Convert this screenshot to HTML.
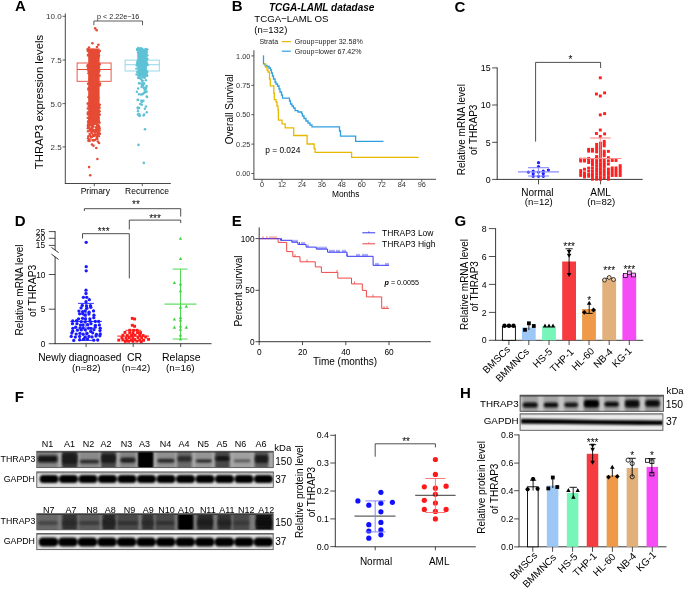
<!DOCTYPE html>
<html><head><meta charset="utf-8"><style>
html,body{margin:0;padding:0;background:#fff;}
svg{display:block;filter:blur(0.3px);}
text{font-family:"Liberation Sans", sans-serif;}
</style></head><body>
<svg width="685" height="589" viewBox="0 0 685 589">
<rect width="685" height="589" fill="#fff"/>
<text x="15.05" y="11.40" font-size="15" text-anchor="start" font-weight="bold" font-style="normal" fill="#000" >A</text>
<line x1="65.30" y1="13.50" x2="65.30" y2="183.50" stroke="#333" stroke-width="0.9" />
<line x1="64.85" y1="183.50" x2="170.80" y2="183.50" stroke="#333" stroke-width="0.9" />
<line x1="62.60" y1="16.30" x2="65.30" y2="16.30" stroke="#333" stroke-width="0.8" />
<text x="61.70" y="19.20" font-size="8" text-anchor="end" font-weight="normal" font-style="normal" fill="#333" >10.0</text>
<line x1="62.60" y1="60.00" x2="65.30" y2="60.00" stroke="#333" stroke-width="0.8" />
<text x="61.70" y="62.90" font-size="8" text-anchor="end" font-weight="normal" font-style="normal" fill="#333" >7.5</text>
<line x1="62.60" y1="103.60" x2="65.30" y2="103.60" stroke="#333" stroke-width="0.8" />
<text x="61.70" y="106.50" font-size="8" text-anchor="end" font-weight="normal" font-style="normal" fill="#333" >5.0</text>
<line x1="62.60" y1="146.90" x2="65.30" y2="146.90" stroke="#333" stroke-width="0.8" />
<text x="61.70" y="149.80" font-size="8" text-anchor="end" font-weight="normal" font-style="normal" fill="#333" >2.5</text>
<line x1="94.30" y1="183.50" x2="94.30" y2="186.20" stroke="#333" stroke-width="0.8" />
<line x1="142.30" y1="183.50" x2="142.30" y2="186.20" stroke="#333" stroke-width="0.8" />
<text x="95.30" y="193.70" font-size="8.5" text-anchor="middle" font-weight="normal" font-style="normal" fill="#000" >Primary</text>
<text x="147.00" y="193.70" font-size="8.5" text-anchor="middle" font-weight="normal" font-style="normal" fill="#000" >Recurrence</text>
<text x="42.80" y="102.00" font-size="11.3" text-anchor="middle" font-weight="normal" font-style="normal" fill="#000" transform="rotate(-90 42.8 102)" >THRAP3 expression levels</text>
<polyline points="93.90,25.20 93.90,21.00 142.50,21.00 142.50,25.20" fill="none" stroke="#333" stroke-width="0.8" />
<text x="118.20" y="18.60" font-size="7.2" text-anchor="middle" font-weight="normal" font-style="normal" fill="#222" >p &lt; 2.22e&#8722;16</text>
<rect x="77.10" y="63.00" width="34.00" height="18.30" fill="none" stroke="#E64B35" stroke-width="0.9" />
<line x1="77.10" y1="69.50" x2="111.10" y2="69.50" stroke="#E64B35" stroke-width="1.1" />
<rect x="125.10" y="60.10" width="34.20" height="10.90" fill="none" stroke="#8fd5e4" stroke-width="0.9" />
<line x1="125.10" y1="64.80" x2="159.30" y2="64.80" stroke="#8fd5e4" stroke-width="1.1" />
<rect x="88.20" y="48.50" width="11.40" height="73.00" fill="#E64B35" stroke="none" stroke-width="1" />
<circle cx="98.19" cy="57.81" r="1.2" fill="#E64B35"/>
<circle cx="90.79" cy="103.76" r="1.2" fill="#E64B35"/>
<circle cx="93.22" cy="84.17" r="1.2" fill="#E64B35"/>
<circle cx="97.46" cy="95.57" r="1.2" fill="#E64B35"/>
<circle cx="87.95" cy="54.85" r="1.2" fill="#E64B35"/>
<circle cx="93.01" cy="109.01" r="1.2" fill="#E64B35"/>
<circle cx="87.63" cy="103.65" r="1.2" fill="#E64B35"/>
<circle cx="96.62" cy="80.51" r="1.2" fill="#E64B35"/>
<circle cx="99.42" cy="64.70" r="1.2" fill="#E64B35"/>
<circle cx="87.98" cy="113.80" r="1.2" fill="#E64B35"/>
<circle cx="94.37" cy="49.86" r="1.2" fill="#E64B35"/>
<circle cx="92.37" cy="116.56" r="1.2" fill="#E64B35"/>
<circle cx="92.88" cy="63.81" r="1.2" fill="#E64B35"/>
<circle cx="90.37" cy="50.12" r="1.2" fill="#E64B35"/>
<circle cx="93.80" cy="79.97" r="1.2" fill="#E64B35"/>
<circle cx="90.49" cy="65.02" r="1.2" fill="#E64B35"/>
<circle cx="93.35" cy="63.97" r="1.2" fill="#E64B35"/>
<circle cx="87.87" cy="69.15" r="1.2" fill="#E64B35"/>
<circle cx="94.56" cy="109.14" r="1.2" fill="#E64B35"/>
<circle cx="89.92" cy="94.89" r="1.2" fill="#E64B35"/>
<circle cx="98.35" cy="120.46" r="1.2" fill="#E64B35"/>
<circle cx="91.76" cy="56.82" r="1.2" fill="#E64B35"/>
<circle cx="96.49" cy="100.67" r="1.2" fill="#E64B35"/>
<circle cx="92.88" cy="116.36" r="1.2" fill="#E64B35"/>
<circle cx="95.98" cy="108.59" r="1.2" fill="#E64B35"/>
<circle cx="94.94" cy="70.15" r="1.2" fill="#E64B35"/>
<circle cx="98.18" cy="112.42" r="1.2" fill="#E64B35"/>
<circle cx="94.96" cy="84.89" r="1.2" fill="#E64B35"/>
<circle cx="90.63" cy="50.52" r="1.2" fill="#E64B35"/>
<circle cx="92.78" cy="106.21" r="1.2" fill="#E64B35"/>
<circle cx="94.46" cy="60.63" r="1.2" fill="#E64B35"/>
<circle cx="96.03" cy="99.32" r="1.2" fill="#E64B35"/>
<circle cx="93.09" cy="75.35" r="1.2" fill="#E64B35"/>
<circle cx="97.33" cy="85.12" r="1.2" fill="#E64B35"/>
<circle cx="92.52" cy="86.03" r="1.2" fill="#E64B35"/>
<circle cx="87.97" cy="83.75" r="1.2" fill="#E64B35"/>
<circle cx="96.39" cy="51.17" r="1.2" fill="#E64B35"/>
<circle cx="95.01" cy="119.77" r="1.2" fill="#E64B35"/>
<circle cx="89.73" cy="76.73" r="1.2" fill="#E64B35"/>
<circle cx="99.88" cy="84.66" r="1.2" fill="#E64B35"/>
<circle cx="94.35" cy="104.25" r="1.2" fill="#E64B35"/>
<circle cx="90.50" cy="110.80" r="1.2" fill="#E64B35"/>
<circle cx="99.51" cy="85.51" r="1.2" fill="#E64B35"/>
<circle cx="93.34" cy="90.18" r="1.2" fill="#E64B35"/>
<circle cx="94.45" cy="67.66" r="1.2" fill="#E64B35"/>
<circle cx="87.67" cy="117.87" r="1.2" fill="#E64B35"/>
<circle cx="97.86" cy="105.21" r="1.2" fill="#E64B35"/>
<circle cx="96.86" cy="112.69" r="1.2" fill="#E64B35"/>
<circle cx="94.08" cy="107.07" r="1.2" fill="#E64B35"/>
<circle cx="92.93" cy="88.98" r="1.2" fill="#E64B35"/>
<circle cx="98.48" cy="52.10" r="1.2" fill="#E64B35"/>
<circle cx="90.10" cy="89.61" r="1.2" fill="#E64B35"/>
<circle cx="93.66" cy="84.84" r="1.2" fill="#E64B35"/>
<circle cx="91.93" cy="74.05" r="1.2" fill="#E64B35"/>
<circle cx="95.39" cy="87.31" r="1.2" fill="#E64B35"/>
<circle cx="93.33" cy="92.71" r="1.2" fill="#E64B35"/>
<circle cx="90.47" cy="50.04" r="1.2" fill="#E64B35"/>
<circle cx="94.91" cy="60.94" r="1.2" fill="#E64B35"/>
<circle cx="97.58" cy="110.85" r="1.2" fill="#E64B35"/>
<circle cx="97.81" cy="106.19" r="1.2" fill="#E64B35"/>
<circle cx="98.12" cy="66.64" r="1.2" fill="#E64B35"/>
<circle cx="88.64" cy="97.14" r="1.2" fill="#E64B35"/>
<circle cx="87.78" cy="49.22" r="1.2" fill="#E64B35"/>
<circle cx="90.72" cy="103.16" r="1.2" fill="#E64B35"/>
<circle cx="95.41" cy="55.99" r="1.2" fill="#E64B35"/>
<circle cx="88.47" cy="73.14" r="1.2" fill="#E64B35"/>
<circle cx="94.19" cy="59.65" r="1.2" fill="#E64B35"/>
<circle cx="91.01" cy="60.27" r="1.2" fill="#E64B35"/>
<circle cx="93.28" cy="99.95" r="1.2" fill="#E64B35"/>
<circle cx="93.52" cy="71.51" r="1.2" fill="#E64B35"/>
<circle cx="92.43" cy="49.73" r="1.2" fill="#E64B35"/>
<circle cx="89.95" cy="78.73" r="1.2" fill="#E64B35"/>
<circle cx="98.85" cy="55.94" r="1.2" fill="#E64B35"/>
<circle cx="90.21" cy="85.24" r="1.2" fill="#E64B35"/>
<circle cx="97.81" cy="92.21" r="1.2" fill="#E64B35"/>
<circle cx="87.82" cy="49.52" r="1.2" fill="#E64B35"/>
<circle cx="96.59" cy="58.69" r="1.2" fill="#E64B35"/>
<circle cx="96.41" cy="59.70" r="1.2" fill="#E64B35"/>
<circle cx="94.41" cy="97.51" r="1.2" fill="#E64B35"/>
<circle cx="99.79" cy="64.10" r="1.2" fill="#E64B35"/>
<circle cx="94.06" cy="106.24" r="1.2" fill="#E64B35"/>
<circle cx="95.71" cy="64.29" r="1.2" fill="#E64B35"/>
<circle cx="94.80" cy="76.83" r="1.2" fill="#E64B35"/>
<circle cx="95.49" cy="71.45" r="1.2" fill="#E64B35"/>
<circle cx="91.33" cy="52.29" r="1.2" fill="#E64B35"/>
<circle cx="98.54" cy="118.66" r="1.2" fill="#E64B35"/>
<circle cx="98.33" cy="70.37" r="1.2" fill="#E64B35"/>
<circle cx="99.34" cy="70.66" r="1.2" fill="#E64B35"/>
<circle cx="92.80" cy="102.30" r="1.2" fill="#E64B35"/>
<circle cx="87.71" cy="66.42" r="1.2" fill="#E64B35"/>
<circle cx="88.07" cy="112.15" r="1.2" fill="#E64B35"/>
<circle cx="99.63" cy="107.82" r="1.2" fill="#E64B35"/>
<circle cx="89.74" cy="89.63" r="1.2" fill="#E64B35"/>
<circle cx="99.77" cy="111.35" r="1.2" fill="#E64B35"/>
<circle cx="93.96" cy="99.39" r="1.2" fill="#E64B35"/>
<circle cx="91.94" cy="75.59" r="1.2" fill="#E64B35"/>
<circle cx="96.03" cy="63.02" r="1.2" fill="#E64B35"/>
<circle cx="90.03" cy="79.61" r="1.2" fill="#E64B35"/>
<circle cx="95.92" cy="55.62" r="1.2" fill="#E64B35"/>
<circle cx="93.85" cy="69.61" r="1.2" fill="#E64B35"/>
<circle cx="98.50" cy="71.75" r="1.2" fill="#E64B35"/>
<circle cx="87.83" cy="113.68" r="1.2" fill="#E64B35"/>
<circle cx="91.70" cy="62.66" r="1.2" fill="#E64B35"/>
<circle cx="97.38" cy="120.05" r="1.2" fill="#E64B35"/>
<circle cx="90.26" cy="72.75" r="1.2" fill="#E64B35"/>
<circle cx="98.07" cy="97.24" r="1.2" fill="#E64B35"/>
<circle cx="91.90" cy="116.05" r="1.2" fill="#E64B35"/>
<circle cx="96.19" cy="112.41" r="1.2" fill="#E64B35"/>
<circle cx="99.92" cy="83.37" r="1.2" fill="#E64B35"/>
<circle cx="96.67" cy="65.13" r="1.2" fill="#E64B35"/>
<circle cx="89.72" cy="54.18" r="1.2" fill="#E64B35"/>
<circle cx="90.26" cy="114.50" r="1.2" fill="#E64B35"/>
<circle cx="95.10" cy="103.42" r="1.2" fill="#E64B35"/>
<circle cx="92.20" cy="109.40" r="1.2" fill="#E64B35"/>
<circle cx="91.24" cy="72.84" r="1.2" fill="#E64B35"/>
<circle cx="95.15" cy="111.32" r="1.2" fill="#E64B35"/>
<circle cx="98.69" cy="117.66" r="1.2" fill="#E64B35"/>
<circle cx="94.49" cy="57.88" r="1.2" fill="#E64B35"/>
<circle cx="88.09" cy="55.61" r="1.2" fill="#E64B35"/>
<circle cx="98.43" cy="53.34" r="1.2" fill="#E64B35"/>
<circle cx="97.96" cy="105.53" r="1.2" fill="#E64B35"/>
<circle cx="95.29" cy="72.89" r="1.2" fill="#E64B35"/>
<circle cx="92.33" cy="105.08" r="1.2" fill="#E64B35"/>
<circle cx="90.40" cy="89.67" r="1.2" fill="#E64B35"/>
<circle cx="90.93" cy="53.97" r="1.2" fill="#E64B35"/>
<circle cx="94.66" cy="113.03" r="1.2" fill="#E64B35"/>
<circle cx="93.32" cy="115.53" r="1.2" fill="#E64B35"/>
<circle cx="97.44" cy="68.23" r="1.2" fill="#E64B35"/>
<circle cx="87.75" cy="108.43" r="1.2" fill="#E64B35"/>
<circle cx="88.75" cy="96.94" r="1.2" fill="#E64B35"/>
<circle cx="98.66" cy="56.40" r="1.2" fill="#E64B35"/>
<circle cx="90.60" cy="50.92" r="1.2" fill="#E64B35"/>
<circle cx="92.86" cy="120.14" r="1.2" fill="#E64B35"/>
<circle cx="89.69" cy="56.44" r="1.2" fill="#E64B35"/>
<circle cx="96.90" cy="65.62" r="1.2" fill="#E64B35"/>
<circle cx="98.98" cy="55.51" r="1.2" fill="#E64B35"/>
<circle cx="99.73" cy="75.61" r="1.2" fill="#E64B35"/>
<circle cx="91.28" cy="114.37" r="1.2" fill="#E64B35"/>
<circle cx="93.56" cy="66.50" r="1.2" fill="#E64B35"/>
<circle cx="95.75" cy="55.31" r="1.2" fill="#E64B35"/>
<circle cx="87.73" cy="50.89" r="1.2" fill="#E64B35"/>
<circle cx="91.29" cy="119.73" r="1.2" fill="#E64B35"/>
<circle cx="93.22" cy="91.55" r="1.2" fill="#E64B35"/>
<circle cx="88.39" cy="70.87" r="1.2" fill="#E64B35"/>
<circle cx="99.72" cy="114.68" r="1.2" fill="#E64B35"/>
<circle cx="88.99" cy="118.80" r="1.2" fill="#E64B35"/>
<circle cx="95.32" cy="63.71" r="1.2" fill="#E64B35"/>
<circle cx="94.39" cy="119.54" r="1.2" fill="#E64B35"/>
<circle cx="95.87" cy="98.24" r="1.2" fill="#E64B35"/>
<circle cx="94.37" cy="66.91" r="1.2" fill="#E64B35"/>
<circle cx="90.68" cy="70.43" r="1.2" fill="#E64B35"/>
<circle cx="91.11" cy="53.94" r="1.2" fill="#E64B35"/>
<circle cx="93.20" cy="119.79" r="1.2" fill="#E64B35"/>
<circle cx="95.64" cy="95.60" r="1.2" fill="#E64B35"/>
<circle cx="92.48" cy="116.67" r="1.2" fill="#E64B35"/>
<circle cx="91.69" cy="70.40" r="1.2" fill="#E64B35"/>
<circle cx="98.19" cy="71.12" r="1.2" fill="#E64B35"/>
<circle cx="91.39" cy="113.23" r="1.2" fill="#E64B35"/>
<circle cx="94.40" cy="72.41" r="1.2" fill="#E64B35"/>
<circle cx="95.05" cy="90.27" r="1.2" fill="#E64B35"/>
<circle cx="87.85" cy="65.89" r="1.2" fill="#E64B35"/>
<circle cx="88.50" cy="65.79" r="1.2" fill="#E64B35"/>
<circle cx="88.49" cy="88.24" r="1.2" fill="#E64B35"/>
<circle cx="95.54" cy="53.48" r="1.2" fill="#E64B35"/>
<circle cx="97.50" cy="69.23" r="1.2" fill="#E64B35"/>
<circle cx="98.38" cy="84.01" r="1.2" fill="#E64B35"/>
<circle cx="93.87" cy="59.26" r="1.2" fill="#E64B35"/>
<circle cx="88.56" cy="106.03" r="1.2" fill="#E64B35"/>
<circle cx="89.77" cy="117.29" r="1.2" fill="#E64B35"/>
<circle cx="99.91" cy="104.66" r="1.2" fill="#E64B35"/>
<circle cx="91.60" cy="107.97" r="1.2" fill="#E64B35"/>
<circle cx="94.03" cy="55.80" r="1.2" fill="#E64B35"/>
<circle cx="91.27" cy="115.11" r="1.2" fill="#E64B35"/>
<circle cx="89.37" cy="113.24" r="1.2" fill="#E64B35"/>
<circle cx="88.00" cy="114.47" r="1.2" fill="#E64B35"/>
<circle cx="98.89" cy="71.07" r="1.2" fill="#E64B35"/>
<circle cx="98.94" cy="106.68" r="1.2" fill="#E64B35"/>
<circle cx="96.93" cy="109.37" r="1.2" fill="#E64B35"/>
<circle cx="89.83" cy="98.34" r="1.2" fill="#E64B35"/>
<circle cx="89.57" cy="79.58" r="1.2" fill="#E64B35"/>
<circle cx="95.95" cy="100.18" r="1.2" fill="#E64B35"/>
<circle cx="88.41" cy="66.44" r="1.2" fill="#E64B35"/>
<circle cx="97.70" cy="118.33" r="1.2" fill="#E64B35"/>
<circle cx="94.37" cy="88.10" r="1.2" fill="#E64B35"/>
<circle cx="93.27" cy="110.14" r="1.2" fill="#E64B35"/>
<circle cx="91.83" cy="76.89" r="1.2" fill="#E64B35"/>
<circle cx="87.91" cy="66.83" r="1.2" fill="#E64B35"/>
<circle cx="92.81" cy="95.19" r="1.2" fill="#E64B35"/>
<circle cx="88.38" cy="89.65" r="1.2" fill="#E64B35"/>
<circle cx="89.33" cy="73.91" r="1.2" fill="#E64B35"/>
<circle cx="90.84" cy="57.13" r="1.2" fill="#E64B35"/>
<circle cx="92.57" cy="108.51" r="1.2" fill="#E64B35"/>
<circle cx="95.26" cy="77.28" r="1.2" fill="#E64B35"/>
<circle cx="87.69" cy="65.05" r="1.2" fill="#E64B35"/>
<circle cx="93.86" cy="86.60" r="1.2" fill="#E64B35"/>
<circle cx="93.08" cy="95.37" r="1.2" fill="#E64B35"/>
<circle cx="96.74" cy="98.12" r="1.2" fill="#E64B35"/>
<circle cx="93.79" cy="65.40" r="1.2" fill="#E64B35"/>
<circle cx="90.41" cy="82.95" r="1.2" fill="#E64B35"/>
<circle cx="94.61" cy="78.09" r="1.2" fill="#E64B35"/>
<circle cx="99.07" cy="114.21" r="1.2" fill="#E64B35"/>
<circle cx="95.68" cy="68.09" r="1.2" fill="#E64B35"/>
<circle cx="88.49" cy="51.52" r="1.2" fill="#E64B35"/>
<circle cx="98.57" cy="85.35" r="1.2" fill="#E64B35"/>
<circle cx="97.18" cy="59.64" r="1.2" fill="#E64B35"/>
<circle cx="91.50" cy="112.46" r="1.2" fill="#E64B35"/>
<circle cx="98.21" cy="98.56" r="1.2" fill="#E64B35"/>
<circle cx="96.37" cy="75.13" r="1.2" fill="#E64B35"/>
<circle cx="95.03" cy="101.76" r="1.2" fill="#E64B35"/>
<circle cx="98.81" cy="110.51" r="1.2" fill="#E64B35"/>
<circle cx="94.74" cy="118.09" r="1.2" fill="#E64B35"/>
<circle cx="90.73" cy="60.87" r="1.2" fill="#E64B35"/>
<circle cx="94.72" cy="63.89" r="1.2" fill="#E64B35"/>
<circle cx="88.25" cy="103.32" r="1.2" fill="#E64B35"/>
<circle cx="96.56" cy="97.76" r="1.2" fill="#E64B35"/>
<circle cx="94.04" cy="73.40" r="1.2" fill="#E64B35"/>
<circle cx="96.72" cy="60.03" r="1.2" fill="#E64B35"/>
<circle cx="99.87" cy="50.97" r="1.2" fill="#E64B35"/>
<circle cx="95.46" cy="106.98" r="1.2" fill="#E64B35"/>
<circle cx="99.01" cy="67.53" r="1.2" fill="#E64B35"/>
<circle cx="89.50" cy="139.72" r="1.2" fill="#E64B35"/>
<circle cx="98.07" cy="134.32" r="1.2" fill="#E64B35"/>
<circle cx="96.34" cy="131.28" r="1.2" fill="#E64B35"/>
<circle cx="99.08" cy="126.48" r="1.2" fill="#E64B35"/>
<circle cx="92.46" cy="140.09" r="1.2" fill="#E64B35"/>
<circle cx="93.08" cy="135.07" r="1.2" fill="#E64B35"/>
<circle cx="91.77" cy="122.12" r="1.2" fill="#E64B35"/>
<circle cx="98.89" cy="121.73" r="1.2" fill="#E64B35"/>
<circle cx="89.25" cy="139.72" r="1.2" fill="#E64B35"/>
<circle cx="92.78" cy="129.85" r="1.2" fill="#E64B35"/>
<circle cx="91.40" cy="121.66" r="1.2" fill="#E64B35"/>
<circle cx="96.94" cy="123.15" r="1.2" fill="#E64B35"/>
<circle cx="90.12" cy="121.00" r="1.2" fill="#E64B35"/>
<circle cx="88.06" cy="126.35" r="1.2" fill="#E64B35"/>
<circle cx="95.19" cy="130.49" r="1.2" fill="#E64B35"/>
<circle cx="90.32" cy="136.00" r="1.2" fill="#E64B35"/>
<circle cx="94.42" cy="123.68" r="1.2" fill="#E64B35"/>
<circle cx="94.95" cy="123.51" r="1.2" fill="#E64B35"/>
<circle cx="96.14" cy="123.19" r="1.2" fill="#E64B35"/>
<circle cx="97.67" cy="134.75" r="1.2" fill="#E64B35"/>
<circle cx="94.45" cy="140.16" r="1.2" fill="#E64B35"/>
<circle cx="98.24" cy="127.40" r="1.2" fill="#E64B35"/>
<circle cx="94.76" cy="134.14" r="1.2" fill="#E64B35"/>
<circle cx="91.27" cy="125.31" r="1.2" fill="#E64B35"/>
<circle cx="97.65" cy="121.57" r="1.2" fill="#E64B35"/>
<circle cx="96.92" cy="121.66" r="1.2" fill="#E64B35"/>
<circle cx="99.57" cy="128.58" r="1.2" fill="#E64B35"/>
<circle cx="99.68" cy="133.92" r="1.2" fill="#E64B35"/>
<circle cx="93.90" cy="121.83" r="1.2" fill="#E64B35"/>
<circle cx="91.60" cy="129.20" r="1.2" fill="#E64B35"/>
<circle cx="92.15" cy="127.66" r="1.2" fill="#E64B35"/>
<circle cx="87.81" cy="128.21" r="1.2" fill="#E64B35"/>
<circle cx="93.28" cy="126.42" r="1.2" fill="#E64B35"/>
<circle cx="92.67" cy="123.99" r="1.2" fill="#E64B35"/>
<circle cx="96.14" cy="134.52" r="1.2" fill="#E64B35"/>
<circle cx="95.70" cy="127.44" r="1.2" fill="#E64B35"/>
<circle cx="90.29" cy="125.21" r="1.2" fill="#E64B35"/>
<circle cx="91.19" cy="121.00" r="1.2" fill="#E64B35"/>
<circle cx="98.56" cy="129.79" r="1.2" fill="#E64B35"/>
<circle cx="94.03" cy="135.83" r="1.2" fill="#E64B35"/>
<circle cx="93.43" cy="140.59" r="1.2" fill="#E64B35"/>
<circle cx="92.79" cy="135.98" r="1.2" fill="#E64B35"/>
<circle cx="99.85" cy="133.48" r="1.2" fill="#E64B35"/>
<circle cx="89.88" cy="124.00" r="1.2" fill="#E64B35"/>
<circle cx="94.28" cy="130.31" r="1.2" fill="#E64B35"/>
<circle cx="87.84" cy="124.89" r="1.2" fill="#E64B35"/>
<circle cx="93.00" cy="125.42" r="1.2" fill="#E64B35"/>
<circle cx="98.31" cy="125.71" r="1.2" fill="#E64B35"/>
<circle cx="96.75" cy="129.47" r="1.2" fill="#E64B35"/>
<circle cx="96.94" cy="137.83" r="1.2" fill="#E64B35"/>
<circle cx="96.90" cy="127.44" r="1.2" fill="#E64B35"/>
<circle cx="95.71" cy="130.80" r="1.2" fill="#E64B35"/>
<circle cx="92.77" cy="130.54" r="1.2" fill="#E64B35"/>
<circle cx="95.53" cy="130.53" r="1.2" fill="#E64B35"/>
<circle cx="97.35" cy="139.03" r="1.2" fill="#E64B35"/>
<circle cx="97.16" cy="136.31" r="1.2" fill="#E64B35"/>
<circle cx="95.19" cy="135.43" r="1.2" fill="#E64B35"/>
<circle cx="91.03" cy="124.72" r="1.2" fill="#E64B35"/>
<circle cx="98.46" cy="132.51" r="1.2" fill="#E64B35"/>
<circle cx="89.66" cy="128.56" r="1.2" fill="#E64B35"/>
<circle cx="93.71" cy="135.93" r="1.2" fill="#E64B35"/>
<circle cx="88.35" cy="126.92" r="1.2" fill="#E64B35"/>
<circle cx="96.89" cy="127.82" r="1.2" fill="#E64B35"/>
<circle cx="92.13" cy="126.04" r="1.2" fill="#E64B35"/>
<circle cx="88.04" cy="131.21" r="1.2" fill="#E64B35"/>
<circle cx="99.34" cy="127.75" r="1.2" fill="#E64B35"/>
<circle cx="92.70" cy="132.06" r="1.2" fill="#E64B35"/>
<circle cx="95.18" cy="132.02" r="1.2" fill="#E64B35"/>
<circle cx="90.33" cy="122.63" r="1.2" fill="#E64B35"/>
<circle cx="91.08" cy="137.48" r="1.2" fill="#E64B35"/>
<circle cx="97.93" cy="121.32" r="1.2" fill="#E64B35"/>
<circle cx="92.29" cy="128.09" r="1.2" fill="#E64B35"/>
<circle cx="96.79" cy="127.84" r="1.2" fill="#E64B35"/>
<circle cx="95.77" cy="122.16" r="1.2" fill="#E64B35"/>
<circle cx="97.74" cy="132.65" r="1.2" fill="#E64B35"/>
<circle cx="95.24" cy="123.46" r="1.2" fill="#E64B35"/>
<circle cx="94.64" cy="122.93" r="1.2" fill="#E64B35"/>
<circle cx="97.44" cy="122.20" r="1.2" fill="#E64B35"/>
<circle cx="91.82" cy="136.91" r="1.2" fill="#E64B35"/>
<circle cx="99.56" cy="122.80" r="1.2" fill="#E64B35"/>
<circle cx="98.09" cy="132.48" r="1.2" fill="#E64B35"/>
<circle cx="98.77" cy="121.08" r="1.2" fill="#E64B35"/>
<circle cx="91.66" cy="130.37" r="1.2" fill="#E64B35"/>
<circle cx="97.09" cy="126.22" r="1.2" fill="#E64B35"/>
<circle cx="90.12" cy="134.59" r="1.2" fill="#E64B35"/>
<circle cx="89.82" cy="130.45" r="1.2" fill="#E64B35"/>
<circle cx="93.21" cy="140.14" r="1.2" fill="#E64B35"/>
<circle cx="96.68" cy="138.29" r="1.2" fill="#E64B35"/>
<circle cx="91.00" cy="129.98" r="1.2" fill="#E64B35"/>
<circle cx="89.49" cy="128.17" r="1.2" fill="#E64B35"/>
<circle cx="96.53" cy="121.84" r="1.2" fill="#E64B35"/>
<circle cx="96.97" cy="124.92" r="1.2" fill="#E64B35"/>
<circle cx="96.56" cy="123.05" r="1.2" fill="#E64B35"/>
<circle cx="91.53" cy="132.78" r="1.2" fill="#E64B35"/>
<circle cx="92.64" cy="121.55" r="1.2" fill="#E64B35"/>
<circle cx="89.02" cy="127.44" r="1.2" fill="#E64B35"/>
<circle cx="88.48" cy="122.36" r="1.2" fill="#E64B35"/>
<circle cx="98.64" cy="129.77" r="1.2" fill="#E64B35"/>
<circle cx="88.22" cy="122.73" r="1.2" fill="#E64B35"/>
<circle cx="97.74" cy="132.40" r="1.2" fill="#E64B35"/>
<circle cx="95.28" cy="139.86" r="1.2" fill="#E64B35"/>
<circle cx="98.02" cy="124.60" r="1.2" fill="#E64B35"/>
<circle cx="96.25" cy="121.66" r="1.2" fill="#E64B35"/>
<circle cx="92.68" cy="121.46" r="1.2" fill="#E64B35"/>
<circle cx="92.41" cy="127.49" r="1.2" fill="#E64B35"/>
<circle cx="90.63" cy="122.16" r="1.2" fill="#E64B35"/>
<circle cx="93.44" cy="135.56" r="1.2" fill="#E64B35"/>
<circle cx="90.39" cy="129.36" r="1.2" fill="#E64B35"/>
<circle cx="91.83" cy="132.69" r="1.2" fill="#E64B35"/>
<circle cx="98.90" cy="129.68" r="1.2" fill="#E64B35"/>
<circle cx="88.36" cy="140.82" r="1.2" fill="#E64B35"/>
<circle cx="98.26" cy="134.92" r="1.2" fill="#E64B35"/>
<circle cx="92.47" cy="124.22" r="1.2" fill="#E64B35"/>
<circle cx="99.01" cy="129.37" r="1.2" fill="#E64B35"/>
<circle cx="98.54" cy="125.62" r="1.2" fill="#E64B35"/>
<circle cx="89.66" cy="133.85" r="1.2" fill="#E64B35"/>
<circle cx="87.99" cy="138.31" r="1.2" fill="#E64B35"/>
<circle cx="95.91" cy="121.91" r="1.2" fill="#E64B35"/>
<circle cx="92.43" cy="121.21" r="1.2" fill="#E64B35"/>
<circle cx="93.45" cy="121.76" r="1.2" fill="#E64B35"/>
<circle cx="98.85" cy="136.13" r="1.2" fill="#E64B35"/>
<circle cx="88.54" cy="121.10" r="1.2" fill="#E64B35"/>
<circle cx="88.32" cy="136.15" r="1.2" fill="#E64B35"/>
<circle cx="89.23" cy="123.51" r="1.2" fill="#E64B35"/>
<circle cx="88.14" cy="121.43" r="1.2" fill="#E64B35"/>
<circle cx="96.88" cy="130.73" r="1.2" fill="#E64B35"/>
<circle cx="98.12" cy="131.96" r="1.2" fill="#E64B35"/>
<circle cx="92.55" cy="131.36" r="1.2" fill="#E64B35"/>
<circle cx="99.63" cy="130.58" r="1.2" fill="#E64B35"/>
<circle cx="90.77" cy="130.83" r="1.2" fill="#E64B35"/>
<circle cx="95.20" cy="28.40" r="1.3" fill="#E64B35"/>
<circle cx="96.70" cy="30.30" r="1.3" fill="#E64B35"/>
<circle cx="92.40" cy="43.30" r="1.3" fill="#E64B35"/>
<circle cx="98.40" cy="44.80" r="1.3" fill="#E64B35"/>
<circle cx="97.00" cy="47.00" r="1.3" fill="#E64B35"/>
<circle cx="89.00" cy="47.50" r="1.3" fill="#E64B35"/>
<circle cx="92.00" cy="144.50" r="1.3" fill="#E64B35"/>
<circle cx="96.30" cy="148.00" r="1.3" fill="#E64B35"/>
<circle cx="93.50" cy="145.80" r="1.3" fill="#E64B35"/>
<circle cx="97.90" cy="141.50" r="1.3" fill="#E64B35"/>
<circle cx="89.50" cy="141.00" r="1.3" fill="#E64B35"/>
<circle cx="99.00" cy="143.00" r="1.3" fill="#E64B35"/>
<circle cx="97.40" cy="159.00" r="1.3" fill="#E64B35"/>
<circle cx="89.10" cy="167.10" r="1.3" fill="#E64B35"/>
<circle cx="90.20" cy="175.20" r="1.3" fill="#E64B35"/>
<rect x="137.30" y="49.00" width="9.60" height="27.00" fill="#5fc2d6" stroke="none" stroke-width="1" />
<circle cx="146.87" cy="49.34" r="1.2" fill="#5fc2d6"/>
<circle cx="140.25" cy="65.51" r="1.2" fill="#5fc2d6"/>
<circle cx="142.63" cy="65.96" r="1.2" fill="#5fc2d6"/>
<circle cx="136.99" cy="63.43" r="1.2" fill="#5fc2d6"/>
<circle cx="140.96" cy="58.27" r="1.2" fill="#5fc2d6"/>
<circle cx="146.25" cy="53.58" r="1.2" fill="#5fc2d6"/>
<circle cx="143.78" cy="60.44" r="1.2" fill="#5fc2d6"/>
<circle cx="144.70" cy="69.26" r="1.2" fill="#5fc2d6"/>
<circle cx="144.80" cy="69.49" r="1.2" fill="#5fc2d6"/>
<circle cx="147.33" cy="55.17" r="1.2" fill="#5fc2d6"/>
<circle cx="146.68" cy="52.11" r="1.2" fill="#5fc2d6"/>
<circle cx="145.93" cy="73.56" r="1.2" fill="#5fc2d6"/>
<circle cx="137.33" cy="49.11" r="1.2" fill="#5fc2d6"/>
<circle cx="141.60" cy="72.30" r="1.2" fill="#5fc2d6"/>
<circle cx="147.43" cy="58.79" r="1.2" fill="#5fc2d6"/>
<circle cx="142.31" cy="48.72" r="1.2" fill="#5fc2d6"/>
<circle cx="137.75" cy="61.02" r="1.2" fill="#5fc2d6"/>
<circle cx="144.30" cy="59.55" r="1.2" fill="#5fc2d6"/>
<circle cx="136.58" cy="74.41" r="1.2" fill="#5fc2d6"/>
<circle cx="137.32" cy="63.50" r="1.2" fill="#5fc2d6"/>
<circle cx="137.27" cy="71.91" r="1.2" fill="#5fc2d6"/>
<circle cx="140.64" cy="48.54" r="1.2" fill="#5fc2d6"/>
<circle cx="139.84" cy="69.84" r="1.2" fill="#5fc2d6"/>
<circle cx="145.28" cy="51.47" r="1.2" fill="#5fc2d6"/>
<circle cx="145.97" cy="72.11" r="1.2" fill="#5fc2d6"/>
<circle cx="141.10" cy="56.76" r="1.2" fill="#5fc2d6"/>
<circle cx="142.60" cy="54.98" r="1.2" fill="#5fc2d6"/>
<circle cx="140.13" cy="57.57" r="1.2" fill="#5fc2d6"/>
<circle cx="147.11" cy="71.40" r="1.2" fill="#5fc2d6"/>
<circle cx="137.48" cy="65.32" r="1.2" fill="#5fc2d6"/>
<circle cx="141.37" cy="67.40" r="1.2" fill="#5fc2d6"/>
<circle cx="144.43" cy="77.63" r="1.2" fill="#5fc2d6"/>
<circle cx="144.22" cy="72.96" r="1.2" fill="#5fc2d6"/>
<circle cx="146.43" cy="63.84" r="1.2" fill="#5fc2d6"/>
<circle cx="139.59" cy="72.86" r="1.2" fill="#5fc2d6"/>
<circle cx="140.48" cy="52.29" r="1.2" fill="#5fc2d6"/>
<circle cx="137.40" cy="63.39" r="1.2" fill="#5fc2d6"/>
<circle cx="142.80" cy="58.03" r="1.2" fill="#5fc2d6"/>
<circle cx="145.51" cy="48.83" r="1.2" fill="#5fc2d6"/>
<circle cx="139.84" cy="67.36" r="1.2" fill="#5fc2d6"/>
<circle cx="140.28" cy="56.60" r="1.2" fill="#5fc2d6"/>
<circle cx="144.76" cy="57.42" r="1.2" fill="#5fc2d6"/>
<circle cx="142.25" cy="62.78" r="1.2" fill="#5fc2d6"/>
<circle cx="146.63" cy="52.04" r="1.2" fill="#5fc2d6"/>
<circle cx="140.00" cy="57.43" r="1.2" fill="#5fc2d6"/>
<circle cx="147.37" cy="49.60" r="1.2" fill="#5fc2d6"/>
<circle cx="146.62" cy="62.13" r="1.2" fill="#5fc2d6"/>
<circle cx="147.26" cy="75.79" r="1.2" fill="#5fc2d6"/>
<circle cx="146.76" cy="72.38" r="1.2" fill="#5fc2d6"/>
<circle cx="145.36" cy="75.63" r="1.2" fill="#5fc2d6"/>
<circle cx="142.22" cy="51.60" r="1.2" fill="#5fc2d6"/>
<circle cx="147.52" cy="65.06" r="1.2" fill="#5fc2d6"/>
<circle cx="144.24" cy="71.41" r="1.2" fill="#5fc2d6"/>
<circle cx="140.39" cy="70.27" r="1.2" fill="#5fc2d6"/>
<circle cx="143.57" cy="76.24" r="1.2" fill="#5fc2d6"/>
<circle cx="141.55" cy="59.78" r="1.2" fill="#5fc2d6"/>
<circle cx="142.31" cy="77.38" r="1.2" fill="#5fc2d6"/>
<circle cx="137.98" cy="52.62" r="1.2" fill="#5fc2d6"/>
<circle cx="142.66" cy="68.46" r="1.2" fill="#5fc2d6"/>
<circle cx="138.39" cy="75.16" r="1.2" fill="#5fc2d6"/>
<circle cx="144.53" cy="60.04" r="1.2" fill="#5fc2d6"/>
<circle cx="137.42" cy="49.03" r="1.2" fill="#5fc2d6"/>
<circle cx="139.30" cy="64.14" r="1.2" fill="#5fc2d6"/>
<circle cx="139.26" cy="50.76" r="1.2" fill="#5fc2d6"/>
<circle cx="142.25" cy="66.78" r="1.2" fill="#5fc2d6"/>
<circle cx="137.12" cy="49.89" r="1.2" fill="#5fc2d6"/>
<circle cx="143.57" cy="73.44" r="1.2" fill="#5fc2d6"/>
<circle cx="146.04" cy="52.79" r="1.2" fill="#5fc2d6"/>
<circle cx="140.46" cy="48.17" r="1.2" fill="#5fc2d6"/>
<circle cx="144.33" cy="73.35" r="1.2" fill="#5fc2d6"/>
<circle cx="146.37" cy="56.15" r="1.2" fill="#5fc2d6"/>
<circle cx="146.08" cy="65.74" r="1.2" fill="#5fc2d6"/>
<circle cx="141.11" cy="74.73" r="1.2" fill="#5fc2d6"/>
<circle cx="142.45" cy="68.11" r="1.2" fill="#5fc2d6"/>
<circle cx="145.32" cy="76.31" r="1.2" fill="#5fc2d6"/>
<circle cx="145.50" cy="69.64" r="1.2" fill="#5fc2d6"/>
<circle cx="139.20" cy="77.94" r="1.2" fill="#5fc2d6"/>
<circle cx="144.74" cy="53.64" r="1.2" fill="#5fc2d6"/>
<circle cx="142.11" cy="71.00" r="1.2" fill="#5fc2d6"/>
<circle cx="140.86" cy="62.36" r="1.2" fill="#5fc2d6"/>
<circle cx="145.30" cy="74.42" r="1.2" fill="#5fc2d6"/>
<circle cx="136.75" cy="65.33" r="1.2" fill="#5fc2d6"/>
<circle cx="141.48" cy="73.46" r="1.2" fill="#5fc2d6"/>
<circle cx="139.68" cy="53.29" r="1.2" fill="#5fc2d6"/>
<circle cx="136.36" cy="68.59" r="1.2" fill="#5fc2d6"/>
<circle cx="139.72" cy="51.16" r="1.2" fill="#5fc2d6"/>
<circle cx="144.74" cy="74.56" r="1.2" fill="#5fc2d6"/>
<circle cx="142.44" cy="77.11" r="1.2" fill="#5fc2d6"/>
<circle cx="142.53" cy="64.95" r="1.2" fill="#5fc2d6"/>
<circle cx="142.43" cy="63.53" r="1.2" fill="#5fc2d6"/>
<circle cx="147.07" cy="72.47" r="1.2" fill="#5fc2d6"/>
<circle cx="143.42" cy="59.95" r="1.2" fill="#5fc2d6"/>
<circle cx="139.71" cy="56.89" r="1.2" fill="#5fc2d6"/>
<circle cx="142.92" cy="62.94" r="1.2" fill="#5fc2d6"/>
<circle cx="147.34" cy="64.27" r="1.2" fill="#5fc2d6"/>
<circle cx="143.49" cy="52.47" r="1.2" fill="#5fc2d6"/>
<circle cx="144.62" cy="77.83" r="1.2" fill="#5fc2d6"/>
<circle cx="140.46" cy="64.76" r="1.2" fill="#5fc2d6"/>
<circle cx="146.88" cy="59.77" r="1.2" fill="#5fc2d6"/>
<circle cx="143.87" cy="74.81" r="1.2" fill="#5fc2d6"/>
<circle cx="146.75" cy="74.91" r="1.2" fill="#5fc2d6"/>
<circle cx="140.63" cy="73.31" r="1.2" fill="#5fc2d6"/>
<circle cx="145.29" cy="61.66" r="1.2" fill="#5fc2d6"/>
<circle cx="144.77" cy="58.87" r="1.2" fill="#5fc2d6"/>
<circle cx="140.10" cy="62.18" r="1.2" fill="#5fc2d6"/>
<circle cx="137.62" cy="61.41" r="1.2" fill="#5fc2d6"/>
<circle cx="140.99" cy="58.31" r="1.2" fill="#5fc2d6"/>
<circle cx="138.24" cy="48.05" r="1.2" fill="#5fc2d6"/>
<circle cx="145.99" cy="55.44" r="1.2" fill="#5fc2d6"/>
<circle cx="139.54" cy="65.48" r="1.2" fill="#5fc2d6"/>
<circle cx="139.46" cy="115.88" r="1.25" fill="#5fc2d6"/>
<circle cx="144.42" cy="92.83" r="1.25" fill="#5fc2d6"/>
<circle cx="141.27" cy="100.75" r="1.25" fill="#5fc2d6"/>
<circle cx="141.80" cy="104.81" r="1.25" fill="#5fc2d6"/>
<circle cx="141.86" cy="101.88" r="1.25" fill="#5fc2d6"/>
<circle cx="144.18" cy="114.52" r="1.25" fill="#5fc2d6"/>
<circle cx="138.13" cy="77.78" r="1.25" fill="#5fc2d6"/>
<circle cx="139.16" cy="114.27" r="1.25" fill="#5fc2d6"/>
<circle cx="139.41" cy="76.35" r="1.25" fill="#5fc2d6"/>
<circle cx="146.61" cy="91.40" r="1.25" fill="#5fc2d6"/>
<circle cx="144.25" cy="88.12" r="1.25" fill="#5fc2d6"/>
<circle cx="137.72" cy="107.61" r="1.25" fill="#5fc2d6"/>
<circle cx="147.06" cy="97.12" r="1.25" fill="#5fc2d6"/>
<circle cx="142.31" cy="94.37" r="1.25" fill="#5fc2d6"/>
<circle cx="146.54" cy="86.09" r="1.25" fill="#5fc2d6"/>
<circle cx="137.86" cy="114.43" r="1.25" fill="#5fc2d6"/>
<circle cx="141.12" cy="94.51" r="1.25" fill="#5fc2d6"/>
<circle cx="138.02" cy="99.84" r="1.25" fill="#5fc2d6"/>
<circle cx="139.67" cy="83.13" r="1.25" fill="#5fc2d6"/>
<circle cx="144.97" cy="91.39" r="1.25" fill="#5fc2d6"/>
<circle cx="144.90" cy="108.77" r="1.25" fill="#5fc2d6"/>
<circle cx="137.70" cy="100.08" r="1.25" fill="#5fc2d6"/>
<circle cx="143.69" cy="87.75" r="1.25" fill="#5fc2d6"/>
<circle cx="142.03" cy="84.15" r="1.25" fill="#5fc2d6"/>
<circle cx="138.00" cy="111.14" r="1.25" fill="#5fc2d6"/>
<circle cx="137.89" cy="108.57" r="1.25" fill="#5fc2d6"/>
<circle cx="146.13" cy="87.62" r="1.25" fill="#5fc2d6"/>
<circle cx="142.16" cy="80.97" r="1.25" fill="#5fc2d6"/>
<circle cx="145.95" cy="88.81" r="1.25" fill="#5fc2d6"/>
<circle cx="139.77" cy="115.59" r="1.25" fill="#5fc2d6"/>
<circle cx="146.02" cy="91.93" r="1.25" fill="#5fc2d6"/>
<circle cx="139.01" cy="94.16" r="1.25" fill="#5fc2d6"/>
<circle cx="140.27" cy="103.98" r="1.25" fill="#5fc2d6"/>
<circle cx="136.89" cy="91.66" r="1.25" fill="#5fc2d6"/>
<circle cx="143.57" cy="115.43" r="1.25" fill="#5fc2d6"/>
<circle cx="146.78" cy="112.19" r="1.25" fill="#5fc2d6"/>
<circle cx="142.37" cy="83.21" r="1.25" fill="#5fc2d6"/>
<circle cx="144.63" cy="89.77" r="1.25" fill="#5fc2d6"/>
<circle cx="139.15" cy="108.01" r="1.25" fill="#5fc2d6"/>
<circle cx="144.07" cy="83.45" r="1.25" fill="#5fc2d6"/>
<circle cx="138.14" cy="88.62" r="1.25" fill="#5fc2d6"/>
<circle cx="142.58" cy="80.79" r="1.25" fill="#5fc2d6"/>
<circle cx="146.69" cy="96.52" r="1.25" fill="#5fc2d6"/>
<circle cx="143.07" cy="93.64" r="1.25" fill="#5fc2d6"/>
<circle cx="141.06" cy="79.36" r="1.25" fill="#5fc2d6"/>
<circle cx="143.96" cy="83.64" r="1.25" fill="#5fc2d6"/>
<circle cx="139.01" cy="83.19" r="1.25" fill="#5fc2d6"/>
<circle cx="141.65" cy="86.89" r="1.25" fill="#5fc2d6"/>
<circle cx="143.04" cy="85.78" r="1.25" fill="#5fc2d6"/>
<circle cx="145.86" cy="80.34" r="1.25" fill="#5fc2d6"/>
<circle cx="142.31" cy="100.89" r="1.25" fill="#5fc2d6"/>
<circle cx="140.16" cy="76.99" r="1.25" fill="#5fc2d6"/>
<circle cx="143.44" cy="100.70" r="1.25" fill="#5fc2d6"/>
<circle cx="145.98" cy="106.51" r="1.25" fill="#5fc2d6"/>
<circle cx="141.89" cy="84.92" r="1.25" fill="#5fc2d6"/>
<circle cx="145.00" cy="129.30" r="1.3" fill="#5fc2d6"/>
<circle cx="138.50" cy="144.90" r="1.3" fill="#5fc2d6"/>
<circle cx="143.80" cy="162.90" r="1.3" fill="#5fc2d6"/>
<text x="231.85" y="11.40" font-size="15" text-anchor="start" font-weight="bold" font-style="normal" fill="#000" >B</text>
<text x="269.00" y="11.30" font-size="10" text-anchor="start" font-weight="bold" font-style="italic" fill="#000" >TCGA-LAML datadase</text>
<text x="254.30" y="22.40" font-size="9.7" text-anchor="start" font-weight="normal" font-style="normal" fill="#000" >TCGA&#8722;LAML OS</text>
<text x="254.30" y="33.40" font-size="9.5" text-anchor="start" font-weight="normal" font-style="normal" fill="#000" >(n=132)</text>
<text x="259.40" y="44.10" font-size="7" text-anchor="start" font-weight="normal" font-style="normal" fill="#222" >Strata</text>
<line x1="281.80" y1="41.60" x2="290.80" y2="41.60" stroke="#E7B800" stroke-width="1.2" />
<line x1="281.80" y1="51.20" x2="290.80" y2="51.20" stroke="#2E9FDF" stroke-width="1.2" />
<text x="294.70" y="44.10" font-size="7.1" text-anchor="start" font-weight="normal" font-style="normal" fill="#222" >Group=upper 32.58%</text>
<text x="294.70" y="53.70" font-size="7.1" text-anchor="start" font-weight="normal" font-style="normal" fill="#222" >Group=lower 67.42%</text>
<line x1="253.90" y1="50.30" x2="253.90" y2="179.30" stroke="#333" stroke-width="0.9" />
<line x1="253.45" y1="179.30" x2="436.00" y2="179.30" stroke="#333" stroke-width="0.9" />
<line x1="251.30" y1="55.90" x2="253.90" y2="55.90" stroke="#333" stroke-width="0.8" />
<text x="250.30" y="58.50" font-size="7.3" text-anchor="end" font-weight="normal" font-style="normal" fill="#333" >1.00</text>
<line x1="251.30" y1="85.30" x2="253.90" y2="85.30" stroke="#333" stroke-width="0.8" />
<text x="250.30" y="87.90" font-size="7.3" text-anchor="end" font-weight="normal" font-style="normal" fill="#333" >0.75</text>
<line x1="251.30" y1="114.70" x2="253.90" y2="114.70" stroke="#333" stroke-width="0.8" />
<text x="250.30" y="117.30" font-size="7.3" text-anchor="end" font-weight="normal" font-style="normal" fill="#333" >0.50</text>
<line x1="251.30" y1="144.10" x2="253.90" y2="144.10" stroke="#333" stroke-width="0.8" />
<text x="250.30" y="146.70" font-size="7.3" text-anchor="end" font-weight="normal" font-style="normal" fill="#333" >0.25</text>
<line x1="251.30" y1="173.50" x2="253.90" y2="173.50" stroke="#333" stroke-width="0.8" />
<text x="250.30" y="176.10" font-size="7.3" text-anchor="end" font-weight="normal" font-style="normal" fill="#333" >0.00</text>
<line x1="262.00" y1="179.30" x2="262.00" y2="181.90" stroke="#333" stroke-width="0.8" />
<text x="262.00" y="187.30" font-size="7.3" text-anchor="middle" font-weight="normal" font-style="normal" fill="#333" >0</text>
<line x1="281.97" y1="179.30" x2="281.97" y2="181.90" stroke="#333" stroke-width="0.8" />
<text x="281.97" y="187.30" font-size="7.3" text-anchor="middle" font-weight="normal" font-style="normal" fill="#333" >12</text>
<line x1="301.94" y1="179.30" x2="301.94" y2="181.90" stroke="#333" stroke-width="0.8" />
<text x="301.94" y="187.30" font-size="7.3" text-anchor="middle" font-weight="normal" font-style="normal" fill="#333" >24</text>
<line x1="321.91" y1="179.30" x2="321.91" y2="181.90" stroke="#333" stroke-width="0.8" />
<text x="321.91" y="187.30" font-size="7.3" text-anchor="middle" font-weight="normal" font-style="normal" fill="#333" >36</text>
<line x1="341.88" y1="179.30" x2="341.88" y2="181.90" stroke="#333" stroke-width="0.8" />
<text x="341.88" y="187.30" font-size="7.3" text-anchor="middle" font-weight="normal" font-style="normal" fill="#333" >48</text>
<line x1="361.85" y1="179.30" x2="361.85" y2="181.90" stroke="#333" stroke-width="0.8" />
<text x="361.85" y="187.30" font-size="7.3" text-anchor="middle" font-weight="normal" font-style="normal" fill="#333" >60</text>
<line x1="381.82" y1="179.30" x2="381.82" y2="181.90" stroke="#333" stroke-width="0.8" />
<text x="381.82" y="187.30" font-size="7.3" text-anchor="middle" font-weight="normal" font-style="normal" fill="#333" >72</text>
<line x1="401.79" y1="179.30" x2="401.79" y2="181.90" stroke="#333" stroke-width="0.8" />
<text x="401.79" y="187.30" font-size="7.3" text-anchor="middle" font-weight="normal" font-style="normal" fill="#333" >84</text>
<line x1="421.76" y1="179.30" x2="421.76" y2="181.90" stroke="#333" stroke-width="0.8" />
<text x="421.76" y="187.30" font-size="7.3" text-anchor="middle" font-weight="normal" font-style="normal" fill="#333" >96</text>
<text x="345.70" y="197.00" font-size="8.4" text-anchor="middle" font-weight="normal" font-style="normal" fill="#000" >Months</text>
<text x="233.30" y="109.20" font-size="10" text-anchor="middle" font-weight="normal" font-style="normal" fill="#000" transform="rotate(-90 233.3 109.2)" >Overall Survival</text>
<text x="265.20" y="153.20" font-size="8.4" text-anchor="start" font-weight="normal" font-style="normal" fill="#000" >p = 0.024</text>
<polyline points="263.10,55.80 263.50,55.80 263.50,63.90 265.00,63.90 265.00,65.50 267.00,65.50 267.00,66.50 269.00,66.50 269.00,68.00 270.50,68.00 270.50,70.00 271.50,70.00 271.50,73.00 272.50,73.00 272.50,76.00 273.50,76.00 273.50,79.00 275.00,79.00 275.00,82.00 276.00,82.00 276.00,84.00 277.50,84.00 277.50,86.00 279.00,86.00 279.00,89.00 280.00,89.00 280.00,92.00 281.50,92.00 281.50,95.00 282.50,95.00 282.50,98.20 289.00,98.20 289.00,98.20 289.50,98.20 289.50,101.00 290.50,101.00 290.50,104.00 292.00,104.00 292.00,106.00 293.50,106.00 293.50,108.00 295.10,108.00 295.10,110.70 298.00,110.70 298.00,112.00 301.70,112.00 301.70,113.60 302.50,113.60 302.50,116.00 304.00,116.00 304.00,118.50 306.00,118.50 306.00,121.00 308.00,121.00 308.00,123.00 310.00,123.00 310.00,125.00 312.00,125.00 312.00,126.80 338.90,126.80 338.90,126.80 339.50,126.80 339.50,131.00 340.50,131.00 340.50,136.20 355.60,136.20 355.60,136.20 355.60,136.20 355.60,141.40 383.50,141.40 383.50,141.40" fill="none" stroke="#2E9FDF" stroke-width="1.3" />
<polyline points="264.00,63.90 265.50,63.90 265.50,67.00 267.00,67.00 267.00,70.00 268.00,70.00 268.00,72.00 269.50,72.00 269.50,79.00 270.30,79.00 270.30,85.80 273.50,85.80 273.50,85.80 273.80,85.80 273.80,93.00 274.30,93.00 274.30,99.60 276.00,99.60 276.00,102.00 277.00,102.00 277.00,106.00 278.00,106.00 278.00,110.00 278.40,110.00 278.40,120.20 282.00,120.20 282.00,123.90 285.20,123.90 285.20,127.80 293.70,127.80 293.70,135.50 307.10,135.50 307.10,144.00 314.10,144.00 314.10,148.70 315.10,148.70 315.10,152.30 351.60,152.30 351.60,157.40 418.60,157.40 418.60,157.40" fill="none" stroke="#E7B800" stroke-width="1.3" />
<text x="454.60" y="11.50" font-size="15" text-anchor="start" font-weight="bold" font-style="normal" fill="#000" >C</text>
<line x1="497.20" y1="67.50" x2="497.20" y2="179.40" stroke="#222" stroke-width="0.9" />
<line x1="496.75" y1="179.40" x2="642.70" y2="179.40" stroke="#222" stroke-width="0.9" />
<line x1="492.10" y1="67.90" x2="497.20" y2="67.90" stroke="#222" stroke-width="0.8" />
<text x="490.60" y="71.10" font-size="8.9" text-anchor="end" font-weight="normal" font-style="normal" fill="#000" >15</text>
<line x1="492.10" y1="105.00" x2="497.20" y2="105.00" stroke="#222" stroke-width="0.8" />
<text x="490.60" y="108.20" font-size="8.9" text-anchor="end" font-weight="normal" font-style="normal" fill="#000" >10</text>
<line x1="492.10" y1="142.30" x2="497.20" y2="142.30" stroke="#222" stroke-width="0.8" />
<text x="490.60" y="145.50" font-size="8.9" text-anchor="end" font-weight="normal" font-style="normal" fill="#000" >5</text>
<line x1="492.10" y1="179.40" x2="497.20" y2="179.40" stroke="#222" stroke-width="0.8" />
<text x="490.60" y="182.60" font-size="8.9" text-anchor="end" font-weight="normal" font-style="normal" fill="#000" >0</text>
<line x1="538.50" y1="179.40" x2="538.50" y2="184.30" stroke="#222" stroke-width="0.8" />
<line x1="600.60" y1="179.40" x2="600.60" y2="184.30" stroke="#222" stroke-width="0.8" />
<text x="537.40" y="195.50" font-size="10" text-anchor="middle" font-weight="normal" font-style="normal" fill="#000" >Normal</text>
<text x="538.80" y="204.50" font-size="9.6" text-anchor="middle" font-weight="normal" font-style="normal" fill="#000" >(n=12)</text>
<text x="600.60" y="195.50" font-size="10" text-anchor="middle" font-weight="normal" font-style="normal" fill="#000" >AML</text>
<text x="601.30" y="204.50" font-size="9.6" text-anchor="middle" font-weight="normal" font-style="normal" fill="#000" >(n=82)</text>
<text x="465.30" y="129.70" font-size="10" text-anchor="middle" font-weight="normal" font-style="normal" fill="#000" transform="rotate(-90 465.3 129.7)" >Relative mRNA level</text>
<text x="477.40" y="129.80" font-size="10" text-anchor="middle" font-weight="normal" font-style="normal" fill="#000" transform="rotate(-90 477.4 129.8)" >of THRAP3</text>
<polyline points="535.60,141.60 535.60,62.40 600.60,62.40 600.60,68.00" fill="none" stroke="#222" stroke-width="0.8" />
<text x="570.40" y="62.50" font-size="10" text-anchor="middle" font-weight="normal" font-style="normal" fill="#000" >*</text>
<circle cx="538.50" cy="162.70" r="1.6" fill="#1f1fff"/>
<circle cx="538.50" cy="166.60" r="1.6" fill="#1f1fff"/>
<circle cx="548.40" cy="170.10" r="1.6" fill="#1f1fff"/>
<circle cx="528.40" cy="172.10" r="1.6" fill="#1f1fff"/>
<circle cx="533.20" cy="171.20" r="1.6" fill="#1f1fff"/>
<circle cx="538.50" cy="172.10" r="1.6" fill="#1f1fff"/>
<circle cx="543.30" cy="171.20" r="1.6" fill="#1f1fff"/>
<circle cx="533.20" cy="173.80" r="1.6" fill="#1f1fff"/>
<circle cx="543.30" cy="173.60" r="1.6" fill="#1f1fff"/>
<circle cx="533.20" cy="176.30" r="1.6" fill="#1f1fff"/>
<circle cx="538.50" cy="176.30" r="1.6" fill="#1f1fff"/>
<circle cx="543.30" cy="176.30" r="1.6" fill="#1f1fff"/>
<line x1="517.90" y1="171.90" x2="559.00" y2="171.90" stroke="#8a8aff" stroke-width="1.1" />
<line x1="538.50" y1="167.70" x2="538.50" y2="176.00" stroke="#8a8aff" stroke-width="0.9" />
<line x1="528.00" y1="167.70" x2="549.00" y2="167.70" stroke="#8a8aff" stroke-width="1.1" />
<line x1="528.00" y1="176.00" x2="549.00" y2="176.00" stroke="#8a8aff" stroke-width="1.1" />
<rect x="598.85" y="76.35" width="2.90" height="2.90" fill="#ff1f1f" stroke="none" stroke-width="1" />
<rect x="594.95" y="92.55" width="2.90" height="2.90" fill="#ff1f1f" stroke="none" stroke-width="1" />
<rect x="598.85" y="94.55" width="2.90" height="2.90" fill="#ff1f1f" stroke="none" stroke-width="1" />
<rect x="603.15" y="91.45" width="2.90" height="2.90" fill="#ff1f1f" stroke="none" stroke-width="1" />
<rect x="598.85" y="113.45" width="2.90" height="2.90" fill="#ff1f1f" stroke="none" stroke-width="1" />
<rect x="603.15" y="112.15" width="2.90" height="2.90" fill="#ff1f1f" stroke="none" stroke-width="1" />
<rect x="598.85" y="128.55" width="2.90" height="2.90" fill="#ff1f1f" stroke="none" stroke-width="1" />
<rect x="594.95" y="132.05" width="2.90" height="2.90" fill="#ff1f1f" stroke="none" stroke-width="1" />
<rect x="603.15" y="132.45" width="2.90" height="2.90" fill="#ff1f1f" stroke="none" stroke-width="1" />
<rect x="598.85" y="134.95" width="2.90" height="2.90" fill="#ff1f1f" stroke="none" stroke-width="1" />
<rect x="598.99" y="141.79" width="2.90" height="2.90" fill="#ff1f1f" stroke="none" stroke-width="1" />
<rect x="598.99" y="144.36" width="2.90" height="2.90" fill="#ff1f1f" stroke="none" stroke-width="1" />
<rect x="598.99" y="146.94" width="2.90" height="2.90" fill="#ff1f1f" stroke="none" stroke-width="1" />
<rect x="598.99" y="149.51" width="2.90" height="2.90" fill="#ff1f1f" stroke="none" stroke-width="1" />
<rect x="598.99" y="152.09" width="2.90" height="2.90" fill="#ff1f1f" stroke="none" stroke-width="1" />
<rect x="598.99" y="154.66" width="2.90" height="2.90" fill="#ff1f1f" stroke="none" stroke-width="1" />
<rect x="598.99" y="157.24" width="2.90" height="2.90" fill="#ff1f1f" stroke="none" stroke-width="1" />
<rect x="598.99" y="159.81" width="2.90" height="2.90" fill="#ff1f1f" stroke="none" stroke-width="1" />
<rect x="598.99" y="162.39" width="2.90" height="2.90" fill="#ff1f1f" stroke="none" stroke-width="1" />
<rect x="598.99" y="164.96" width="2.90" height="2.90" fill="#ff1f1f" stroke="none" stroke-width="1" />
<rect x="598.99" y="167.53" width="2.90" height="2.90" fill="#ff1f1f" stroke="none" stroke-width="1" />
<rect x="598.99" y="170.11" width="2.90" height="2.90" fill="#ff1f1f" stroke="none" stroke-width="1" />
<rect x="598.99" y="172.68" width="2.90" height="2.90" fill="#ff1f1f" stroke="none" stroke-width="1" />
<rect x="598.99" y="175.26" width="2.90" height="2.90" fill="#ff1f1f" stroke="none" stroke-width="1" />
<rect x="598.99" y="177.83" width="2.90" height="2.90" fill="#ff1f1f" stroke="none" stroke-width="1" />
<rect x="595.19" y="142.93" width="2.90" height="2.90" fill="#ff1f1f" stroke="none" stroke-width="1" />
<rect x="595.19" y="145.45" width="2.90" height="2.90" fill="#ff1f1f" stroke="none" stroke-width="1" />
<rect x="595.19" y="147.97" width="2.90" height="2.90" fill="#ff1f1f" stroke="none" stroke-width="1" />
<rect x="595.19" y="150.50" width="2.90" height="2.90" fill="#ff1f1f" stroke="none" stroke-width="1" />
<rect x="595.19" y="155.07" width="2.90" height="2.90" fill="#ff1f1f" stroke="none" stroke-width="1" />
<rect x="595.19" y="156.57" width="2.90" height="2.90" fill="#ff1f1f" stroke="none" stroke-width="1" />
<rect x="595.19" y="159.25" width="2.90" height="2.90" fill="#ff1f1f" stroke="none" stroke-width="1" />
<rect x="595.19" y="161.91" width="2.90" height="2.90" fill="#ff1f1f" stroke="none" stroke-width="1" />
<rect x="595.19" y="164.56" width="2.90" height="2.90" fill="#ff1f1f" stroke="none" stroke-width="1" />
<rect x="595.19" y="167.22" width="2.90" height="2.90" fill="#ff1f1f" stroke="none" stroke-width="1" />
<rect x="595.19" y="169.87" width="2.90" height="2.90" fill="#ff1f1f" stroke="none" stroke-width="1" />
<rect x="595.19" y="172.52" width="2.90" height="2.90" fill="#ff1f1f" stroke="none" stroke-width="1" />
<rect x="595.19" y="175.18" width="2.90" height="2.90" fill="#ff1f1f" stroke="none" stroke-width="1" />
<rect x="595.19" y="177.83" width="2.90" height="2.90" fill="#ff1f1f" stroke="none" stroke-width="1" />
<rect x="602.78" y="139.89" width="2.90" height="2.90" fill="#ff1f1f" stroke="none" stroke-width="1" />
<rect x="602.78" y="142.16" width="2.90" height="2.90" fill="#ff1f1f" stroke="none" stroke-width="1" />
<rect x="602.78" y="144.42" width="2.90" height="2.90" fill="#ff1f1f" stroke="none" stroke-width="1" />
<rect x="602.78" y="149.76" width="2.90" height="2.90" fill="#ff1f1f" stroke="none" stroke-width="1" />
<rect x="602.78" y="152.03" width="2.90" height="2.90" fill="#ff1f1f" stroke="none" stroke-width="1" />
<rect x="602.78" y="154.30" width="2.90" height="2.90" fill="#ff1f1f" stroke="none" stroke-width="1" />
<rect x="602.78" y="158.87" width="2.90" height="2.90" fill="#ff1f1f" stroke="none" stroke-width="1" />
<rect x="602.78" y="161.14" width="2.90" height="2.90" fill="#ff1f1f" stroke="none" stroke-width="1" />
<rect x="602.78" y="163.41" width="2.90" height="2.90" fill="#ff1f1f" stroke="none" stroke-width="1" />
<rect x="602.78" y="165.71" width="2.90" height="2.90" fill="#ff1f1f" stroke="none" stroke-width="1" />
<rect x="602.78" y="168.36" width="2.90" height="2.90" fill="#ff1f1f" stroke="none" stroke-width="1" />
<rect x="602.78" y="171.01" width="2.90" height="2.90" fill="#ff1f1f" stroke="none" stroke-width="1" />
<rect x="602.78" y="173.66" width="2.90" height="2.90" fill="#ff1f1f" stroke="none" stroke-width="1" />
<rect x="602.78" y="176.32" width="2.90" height="2.90" fill="#ff1f1f" stroke="none" stroke-width="1" />
<rect x="591.01" y="147.86" width="2.90" height="2.90" fill="#ff1f1f" stroke="none" stroke-width="1" />
<rect x="591.01" y="149.74" width="2.90" height="2.90" fill="#ff1f1f" stroke="none" stroke-width="1" />
<rect x="591.01" y="158.87" width="2.90" height="2.90" fill="#ff1f1f" stroke="none" stroke-width="1" />
<rect x="591.01" y="161.14" width="2.90" height="2.90" fill="#ff1f1f" stroke="none" stroke-width="1" />
<rect x="591.01" y="163.41" width="2.90" height="2.90" fill="#ff1f1f" stroke="none" stroke-width="1" />
<rect x="591.01" y="166.46" width="2.90" height="2.90" fill="#ff1f1f" stroke="none" stroke-width="1" />
<rect x="591.01" y="169.31" width="2.90" height="2.90" fill="#ff1f1f" stroke="none" stroke-width="1" />
<rect x="591.01" y="172.15" width="2.90" height="2.90" fill="#ff1f1f" stroke="none" stroke-width="1" />
<rect x="591.01" y="174.99" width="2.90" height="2.90" fill="#ff1f1f" stroke="none" stroke-width="1" />
<rect x="591.01" y="177.83" width="2.90" height="2.90" fill="#ff1f1f" stroke="none" stroke-width="1" />
<rect x="587.22" y="147.86" width="2.90" height="2.90" fill="#ff1f1f" stroke="none" stroke-width="1" />
<rect x="587.22" y="149.74" width="2.90" height="2.90" fill="#ff1f1f" stroke="none" stroke-width="1" />
<rect x="587.22" y="156.97" width="2.90" height="2.90" fill="#ff1f1f" stroke="none" stroke-width="1" />
<rect x="587.22" y="159.05" width="2.90" height="2.90" fill="#ff1f1f" stroke="none" stroke-width="1" />
<rect x="587.22" y="161.13" width="2.90" height="2.90" fill="#ff1f1f" stroke="none" stroke-width="1" />
<rect x="587.22" y="166.64" width="2.90" height="2.90" fill="#ff1f1f" stroke="none" stroke-width="1" />
<rect x="587.22" y="169.68" width="2.90" height="2.90" fill="#ff1f1f" stroke="none" stroke-width="1" />
<rect x="587.22" y="172.92" width="2.90" height="2.90" fill="#ff1f1f" stroke="none" stroke-width="1" />
<rect x="587.22" y="174.80" width="2.90" height="2.90" fill="#ff1f1f" stroke="none" stroke-width="1" />
<rect x="583.04" y="157.73" width="2.90" height="2.90" fill="#ff1f1f" stroke="none" stroke-width="1" />
<rect x="583.04" y="159.61" width="2.90" height="2.90" fill="#ff1f1f" stroke="none" stroke-width="1" />
<rect x="583.04" y="167.78" width="2.90" height="2.90" fill="#ff1f1f" stroke="none" stroke-width="1" />
<rect x="583.04" y="171.40" width="2.90" height="2.90" fill="#ff1f1f" stroke="none" stroke-width="1" />
<rect x="583.04" y="173.48" width="2.90" height="2.90" fill="#ff1f1f" stroke="none" stroke-width="1" />
<rect x="583.04" y="175.56" width="2.90" height="2.90" fill="#ff1f1f" stroke="none" stroke-width="1" />
<rect x="579.24" y="157.73" width="2.90" height="2.90" fill="#ff1f1f" stroke="none" stroke-width="1" />
<rect x="579.24" y="159.61" width="2.90" height="2.90" fill="#ff1f1f" stroke="none" stroke-width="1" />
<rect x="579.24" y="169.12" width="2.90" height="2.90" fill="#ff1f1f" stroke="none" stroke-width="1" />
<rect x="579.24" y="171.58" width="2.90" height="2.90" fill="#ff1f1f" stroke="none" stroke-width="1" />
<rect x="579.24" y="174.04" width="2.90" height="2.90" fill="#ff1f1f" stroke="none" stroke-width="1" />
<rect x="606.96" y="149.94" width="2.90" height="2.90" fill="#ff1f1f" stroke="none" stroke-width="1" />
<rect x="606.96" y="156.21" width="2.90" height="2.90" fill="#ff1f1f" stroke="none" stroke-width="1" />
<rect x="606.96" y="159.43" width="2.90" height="2.90" fill="#ff1f1f" stroke="none" stroke-width="1" />
<rect x="606.96" y="162.65" width="2.90" height="2.90" fill="#ff1f1f" stroke="none" stroke-width="1" />
<rect x="606.96" y="167.60" width="2.90" height="2.90" fill="#ff1f1f" stroke="none" stroke-width="1" />
<rect x="606.96" y="170.16" width="2.90" height="2.90" fill="#ff1f1f" stroke="none" stroke-width="1" />
<rect x="606.96" y="172.72" width="2.90" height="2.90" fill="#ff1f1f" stroke="none" stroke-width="1" />
<rect x="606.96" y="175.28" width="2.90" height="2.90" fill="#ff1f1f" stroke="none" stroke-width="1" />
<rect x="606.96" y="177.83" width="2.90" height="2.90" fill="#ff1f1f" stroke="none" stroke-width="1" />
<rect x="610.76" y="159.05" width="2.90" height="2.90" fill="#ff1f1f" stroke="none" stroke-width="1" />
<rect x="610.76" y="166.46" width="2.90" height="2.90" fill="#ff1f1f" stroke="none" stroke-width="1" />
<rect x="610.76" y="168.99" width="2.90" height="2.90" fill="#ff1f1f" stroke="none" stroke-width="1" />
<rect x="610.76" y="171.51" width="2.90" height="2.90" fill="#ff1f1f" stroke="none" stroke-width="1" />
<rect x="610.76" y="174.04" width="2.90" height="2.90" fill="#ff1f1f" stroke="none" stroke-width="1" />
<rect x="614.55" y="159.05" width="2.90" height="2.90" fill="#ff1f1f" stroke="none" stroke-width="1" />
<rect x="614.55" y="166.46" width="2.90" height="2.90" fill="#ff1f1f" stroke="none" stroke-width="1" />
<rect x="614.55" y="168.99" width="2.90" height="2.90" fill="#ff1f1f" stroke="none" stroke-width="1" />
<rect x="614.55" y="171.51" width="2.90" height="2.90" fill="#ff1f1f" stroke="none" stroke-width="1" />
<rect x="614.55" y="174.04" width="2.90" height="2.90" fill="#ff1f1f" stroke="none" stroke-width="1" />
<rect x="618.73" y="164.19" width="2.90" height="2.90" fill="#ff1f1f" stroke="none" stroke-width="1" />
<rect x="618.73" y="166.65" width="2.90" height="2.90" fill="#ff1f1f" stroke="none" stroke-width="1" />
<rect x="618.73" y="169.11" width="2.90" height="2.90" fill="#ff1f1f" stroke="none" stroke-width="1" />
<rect x="618.73" y="171.57" width="2.90" height="2.90" fill="#ff1f1f" stroke="none" stroke-width="1" />
<rect x="618.73" y="174.04" width="2.90" height="2.90" fill="#ff1f1f" stroke="none" stroke-width="1" />
<line x1="579.80" y1="158.50" x2="621.20" y2="158.50" stroke="#ff8a8a" stroke-width="1.1" />
<line x1="590.10" y1="138.00" x2="610.60" y2="138.00" stroke="#ff8a8a" stroke-width="1.1" />
<line x1="600.30" y1="138.00" x2="600.30" y2="158.50" stroke="#ff8a8a" stroke-width="0.9" />
<text x="14.75" y="225.80" font-size="15" text-anchor="start" font-weight="bold" font-style="normal" fill="#000" >D</text>
<line x1="55.10" y1="231.10" x2="55.10" y2="250.20" stroke="#222" stroke-width="0.9" />
<line x1="55.10" y1="256.80" x2="55.10" y2="343.70" stroke="#222" stroke-width="0.9" />
<line x1="54.65" y1="343.70" x2="211.50" y2="343.70" stroke="#222" stroke-width="0.9" />
<line x1="48.80" y1="231.60" x2="55.10" y2="231.60" stroke="#222" stroke-width="0.8" />
<text x="45.10" y="234.60" font-size="8.3" text-anchor="end" font-weight="normal" font-style="normal" fill="#000" >25</text>
<line x1="48.80" y1="238.30" x2="55.10" y2="238.30" stroke="#222" stroke-width="0.8" />
<text x="45.10" y="241.30" font-size="8.3" text-anchor="end" font-weight="normal" font-style="normal" fill="#000" >20</text>
<line x1="48.80" y1="245.40" x2="55.10" y2="245.40" stroke="#222" stroke-width="0.8" />
<text x="45.10" y="248.40" font-size="8.3" text-anchor="end" font-weight="normal" font-style="normal" fill="#000" >15</text>
<line x1="48.80" y1="274.50" x2="55.10" y2="274.50" stroke="#222" stroke-width="0.8" />
<text x="45.40" y="277.50" font-size="8.3" text-anchor="end" font-weight="normal" font-style="normal" fill="#000" >10</text>
<line x1="48.80" y1="309.20" x2="55.10" y2="309.20" stroke="#222" stroke-width="0.8" />
<text x="45.40" y="312.20" font-size="8.3" text-anchor="end" font-weight="normal" font-style="normal" fill="#000" >5</text>
<line x1="48.80" y1="343.70" x2="55.10" y2="343.70" stroke="#222" stroke-width="0.8" />
<text x="45.40" y="346.70" font-size="8.3" text-anchor="end" font-weight="normal" font-style="normal" fill="#000" >0</text>
<line x1="51.40" y1="247.40" x2="58.60" y2="252.60" stroke="#222" stroke-width="0.9" />
<line x1="51.40" y1="254.10" x2="58.60" y2="259.50" stroke="#222" stroke-width="0.9" />
<line x1="86.10" y1="343.70" x2="86.10" y2="347.00" stroke="#222" stroke-width="0.8" />
<line x1="133.20" y1="343.70" x2="133.20" y2="347.00" stroke="#222" stroke-width="0.8" />
<line x1="180.70" y1="343.70" x2="180.70" y2="347.00" stroke="#222" stroke-width="0.8" />
<text x="22.90" y="290.00" font-size="10" text-anchor="middle" font-weight="normal" font-style="normal" fill="#000" transform="rotate(-90 22.9 290)" >Relative mRNA level</text>
<text x="35.90" y="290.80" font-size="10.4" text-anchor="middle" font-weight="normal" font-style="normal" fill="#000" transform="rotate(-90 35.9 290.8)" >of THRAP3</text>
<text x="79.90" y="360.50" font-size="10.2" text-anchor="middle" font-weight="normal" font-style="normal" fill="#000" >Newly diagnoased</text>
<text x="86.30" y="371.20" font-size="9.8" text-anchor="middle" font-weight="normal" font-style="normal" fill="#000" >(n=82)</text>
<text x="134.60" y="360.50" font-size="10.5" text-anchor="middle" font-weight="normal" font-style="normal" fill="#000" >CR</text>
<text x="136.00" y="371.20" font-size="9.8" text-anchor="middle" font-weight="normal" font-style="normal" fill="#000" >(n=42)</text>
<text x="181.30" y="360.50" font-size="10.5" text-anchor="middle" font-weight="normal" font-style="normal" fill="#000" >Relapse</text>
<text x="180.30" y="371.20" font-size="9.8" text-anchor="middle" font-weight="normal" font-style="normal" fill="#000" >(n=16)</text>
<polyline points="84.40,211.00 84.40,208.70 180.70,208.70 180.70,216.50" fill="none" stroke="#222" stroke-width="0.8" />
<text x="136.00" y="207.60" font-size="10" text-anchor="middle" font-weight="normal" font-style="normal" fill="#000" >**</text>
<polyline points="82.50,238.50 82.50,233.70 129.30,233.70 129.30,278.40" fill="none" stroke="#222" stroke-width="0.8" />
<text x="103.70" y="235.00" font-size="10" text-anchor="middle" font-weight="normal" font-style="normal" fill="#000" >***</text>
<polyline points="129.30,229.50 129.30,220.10 180.70,220.10 180.70,223.00" fill="none" stroke="#222" stroke-width="0.8" />
<text x="155.00" y="221.50" font-size="10" text-anchor="middle" font-weight="normal" font-style="normal" fill="#000" >***</text>
<circle cx="86.20" cy="242.30" r="1.65" fill="#1a1aff"/>
<circle cx="86.20" cy="266.70" r="1.65" fill="#1a1aff"/>
<circle cx="86.20" cy="270.80" r="1.65" fill="#1a1aff"/>
<circle cx="86.00" cy="290.20" r="1.65" fill="#1a1aff"/>
<circle cx="86.00" cy="293.50" r="1.65" fill="#1a1aff"/>
<circle cx="83.40" cy="297.30" r="1.65" fill="#1a1aff"/>
<circle cx="86.70" cy="297.30" r="1.65" fill="#1a1aff"/>
<circle cx="89.30" cy="299.70" r="1.65" fill="#1a1aff"/>
<circle cx="86.00" cy="301.70" r="1.65" fill="#1a1aff"/>
<circle cx="82.25" cy="305.44" r="1.65" fill="#1a1aff"/>
<circle cx="86.59" cy="305.80" r="1.65" fill="#1a1aff"/>
<circle cx="90.48" cy="305.76" r="1.65" fill="#1a1aff"/>
<circle cx="81.06" cy="307.94" r="1.65" fill="#1a1aff"/>
<circle cx="86.89" cy="308.27" r="1.65" fill="#1a1aff"/>
<circle cx="90.80" cy="307.30" r="1.65" fill="#1a1aff"/>
<circle cx="78.94" cy="311.04" r="1.65" fill="#1a1aff"/>
<circle cx="82.59" cy="311.63" r="1.65" fill="#1a1aff"/>
<circle cx="85.03" cy="310.99" r="1.65" fill="#1a1aff"/>
<circle cx="89.06" cy="312.25" r="1.65" fill="#1a1aff"/>
<circle cx="93.53" cy="310.89" r="1.65" fill="#1a1aff"/>
<circle cx="79.59" cy="313.85" r="1.65" fill="#1a1aff"/>
<circle cx="82.73" cy="313.83" r="1.65" fill="#1a1aff"/>
<circle cx="85.00" cy="315.17" r="1.65" fill="#1a1aff"/>
<circle cx="88.92" cy="313.99" r="1.65" fill="#1a1aff"/>
<circle cx="93.96" cy="315.17" r="1.65" fill="#1a1aff"/>
<circle cx="78.58" cy="318.83" r="1.65" fill="#1a1aff"/>
<circle cx="82.58" cy="318.32" r="1.65" fill="#1a1aff"/>
<circle cx="85.41" cy="318.79" r="1.65" fill="#1a1aff"/>
<circle cx="89.88" cy="318.84" r="1.65" fill="#1a1aff"/>
<circle cx="93.79" cy="317.64" r="1.65" fill="#1a1aff"/>
<circle cx="72.72" cy="320.90" r="1.65" fill="#1a1aff"/>
<circle cx="76.62" cy="320.72" r="1.65" fill="#1a1aff"/>
<circle cx="81.27" cy="321.69" r="1.65" fill="#1a1aff"/>
<circle cx="85.01" cy="321.82" r="1.65" fill="#1a1aff"/>
<circle cx="90.01" cy="321.16" r="1.65" fill="#1a1aff"/>
<circle cx="95.30" cy="321.47" r="1.65" fill="#1a1aff"/>
<circle cx="98.63" cy="321.47" r="1.65" fill="#1a1aff"/>
<circle cx="72.41" cy="323.70" r="1.65" fill="#1a1aff"/>
<circle cx="76.95" cy="323.64" r="1.65" fill="#1a1aff"/>
<circle cx="80.50" cy="325.12" r="1.65" fill="#1a1aff"/>
<circle cx="83.04" cy="325.02" r="1.65" fill="#1a1aff"/>
<circle cx="87.73" cy="324.64" r="1.65" fill="#1a1aff"/>
<circle cx="91.02" cy="323.68" r="1.65" fill="#1a1aff"/>
<circle cx="95.36" cy="325.32" r="1.65" fill="#1a1aff"/>
<circle cx="99.39" cy="324.96" r="1.65" fill="#1a1aff"/>
<circle cx="72.86" cy="328.30" r="1.65" fill="#1a1aff"/>
<circle cx="75.69" cy="327.24" r="1.65" fill="#1a1aff"/>
<circle cx="80.05" cy="328.00" r="1.65" fill="#1a1aff"/>
<circle cx="83.22" cy="327.95" r="1.65" fill="#1a1aff"/>
<circle cx="88.59" cy="328.15" r="1.65" fill="#1a1aff"/>
<circle cx="91.07" cy="328.30" r="1.65" fill="#1a1aff"/>
<circle cx="95.18" cy="327.21" r="1.65" fill="#1a1aff"/>
<circle cx="100.22" cy="328.25" r="1.65" fill="#1a1aff"/>
<circle cx="72.68" cy="331.26" r="1.65" fill="#1a1aff"/>
<circle cx="77.42" cy="330.16" r="1.65" fill="#1a1aff"/>
<circle cx="81.30" cy="329.92" r="1.65" fill="#1a1aff"/>
<circle cx="85.16" cy="329.87" r="1.65" fill="#1a1aff"/>
<circle cx="90.71" cy="331.39" r="1.65" fill="#1a1aff"/>
<circle cx="93.99" cy="329.69" r="1.65" fill="#1a1aff"/>
<circle cx="99.97" cy="330.56" r="1.65" fill="#1a1aff"/>
<circle cx="71.81" cy="333.03" r="1.65" fill="#1a1aff"/>
<circle cx="76.19" cy="334.09" r="1.65" fill="#1a1aff"/>
<circle cx="79.91" cy="333.36" r="1.65" fill="#1a1aff"/>
<circle cx="83.11" cy="334.25" r="1.65" fill="#1a1aff"/>
<circle cx="87.07" cy="333.49" r="1.65" fill="#1a1aff"/>
<circle cx="92.68" cy="332.84" r="1.65" fill="#1a1aff"/>
<circle cx="96.46" cy="334.31" r="1.65" fill="#1a1aff"/>
<circle cx="100.26" cy="334.02" r="1.65" fill="#1a1aff"/>
<circle cx="71.21" cy="336.38" r="1.65" fill="#1a1aff"/>
<circle cx="75.30" cy="337.12" r="1.65" fill="#1a1aff"/>
<circle cx="79.59" cy="336.42" r="1.65" fill="#1a1aff"/>
<circle cx="85.00" cy="337.13" r="1.65" fill="#1a1aff"/>
<circle cx="88.95" cy="336.42" r="1.65" fill="#1a1aff"/>
<circle cx="91.98" cy="336.91" r="1.65" fill="#1a1aff"/>
<circle cx="95.96" cy="336.12" r="1.65" fill="#1a1aff"/>
<circle cx="99.81" cy="335.86" r="1.65" fill="#1a1aff"/>
<circle cx="73.75" cy="340.38" r="1.65" fill="#1a1aff"/>
<circle cx="79.72" cy="339.73" r="1.65" fill="#1a1aff"/>
<circle cx="83.60" cy="339.21" r="1.65" fill="#1a1aff"/>
<circle cx="87.58" cy="339.09" r="1.65" fill="#1a1aff"/>
<circle cx="93.76" cy="340.16" r="1.65" fill="#1a1aff"/>
<circle cx="97.72" cy="340.01" r="1.65" fill="#1a1aff"/>
<line x1="70.30" y1="321.40" x2="101.80" y2="321.40" stroke="#1a1aff" stroke-width="1" />
<line x1="78.10" y1="303.40" x2="93.90" y2="303.40" stroke="#1a1aff" stroke-width="0.9" />
<line x1="78.10" y1="340.40" x2="93.90" y2="340.40" stroke="#1a1aff" stroke-width="0.9" />
<line x1="86.00" y1="303.40" x2="86.00" y2="340.40" stroke="#1a1aff" stroke-width="0.9" />
<rect x="130.85" y="316.95" width="2.90" height="2.90" fill="#ff1a1a" stroke="none" stroke-width="1" />
<rect x="133.15" y="317.55" width="2.90" height="2.90" fill="#ff1a1a" stroke="none" stroke-width="1" />
<rect x="130.85" y="323.85" width="2.90" height="2.90" fill="#ff1a1a" stroke="none" stroke-width="1" />
<rect x="133.15" y="324.85" width="2.90" height="2.90" fill="#ff1a1a" stroke="none" stroke-width="1" />
<rect x="128.29" y="328.82" width="2.90" height="2.90" fill="#ff1a1a" stroke="none" stroke-width="1" />
<rect x="132.11" y="328.91" width="2.90" height="2.90" fill="#ff1a1a" stroke="none" stroke-width="1" />
<rect x="135.63" y="328.84" width="2.90" height="2.90" fill="#ff1a1a" stroke="none" stroke-width="1" />
<rect x="123.50" y="331.03" width="2.90" height="2.90" fill="#ff1a1a" stroke="none" stroke-width="1" />
<rect x="128.28" y="331.32" width="2.90" height="2.90" fill="#ff1a1a" stroke="none" stroke-width="1" />
<rect x="131.52" y="331.67" width="2.90" height="2.90" fill="#ff1a1a" stroke="none" stroke-width="1" />
<rect x="136.09" y="331.16" width="2.90" height="2.90" fill="#ff1a1a" stroke="none" stroke-width="1" />
<rect x="139.07" y="331.12" width="2.90" height="2.90" fill="#ff1a1a" stroke="none" stroke-width="1" />
<rect x="121.45" y="333.79" width="2.90" height="2.90" fill="#ff1a1a" stroke="none" stroke-width="1" />
<rect x="125.79" y="333.99" width="2.90" height="2.90" fill="#ff1a1a" stroke="none" stroke-width="1" />
<rect x="130.09" y="333.97" width="2.90" height="2.90" fill="#ff1a1a" stroke="none" stroke-width="1" />
<rect x="133.61" y="333.75" width="2.90" height="2.90" fill="#ff1a1a" stroke="none" stroke-width="1" />
<rect x="138.23" y="334.01" width="2.90" height="2.90" fill="#ff1a1a" stroke="none" stroke-width="1" />
<rect x="141.61" y="334.03" width="2.90" height="2.90" fill="#ff1a1a" stroke="none" stroke-width="1" />
<rect x="120.44" y="336.31" width="2.90" height="2.90" fill="#ff1a1a" stroke="none" stroke-width="1" />
<rect x="124.61" y="336.69" width="2.90" height="2.90" fill="#ff1a1a" stroke="none" stroke-width="1" />
<rect x="127.88" y="336.09" width="2.90" height="2.90" fill="#ff1a1a" stroke="none" stroke-width="1" />
<rect x="131.32" y="336.52" width="2.90" height="2.90" fill="#ff1a1a" stroke="none" stroke-width="1" />
<rect x="136.55" y="336.02" width="2.90" height="2.90" fill="#ff1a1a" stroke="none" stroke-width="1" />
<rect x="140.16" y="336.36" width="2.90" height="2.90" fill="#ff1a1a" stroke="none" stroke-width="1" />
<rect x="144.22" y="335.59" width="2.90" height="2.90" fill="#ff1a1a" stroke="none" stroke-width="1" />
<rect x="117.30" y="338.66" width="2.90" height="2.90" fill="#ff1a1a" stroke="none" stroke-width="1" />
<rect x="121.40" y="338.44" width="2.90" height="2.90" fill="#ff1a1a" stroke="none" stroke-width="1" />
<rect x="125.62" y="338.93" width="2.90" height="2.90" fill="#ff1a1a" stroke="none" stroke-width="1" />
<rect x="129.93" y="338.86" width="2.90" height="2.90" fill="#ff1a1a" stroke="none" stroke-width="1" />
<rect x="133.24" y="338.07" width="2.90" height="2.90" fill="#ff1a1a" stroke="none" stroke-width="1" />
<rect x="138.18" y="338.76" width="2.90" height="2.90" fill="#ff1a1a" stroke="none" stroke-width="1" />
<rect x="142.11" y="338.81" width="2.90" height="2.90" fill="#ff1a1a" stroke="none" stroke-width="1" />
<rect x="147.06" y="337.91" width="2.90" height="2.90" fill="#ff1a1a" stroke="none" stroke-width="1" />
<rect x="123.80" y="339.97" width="2.90" height="2.90" fill="#ff1a1a" stroke="none" stroke-width="1" />
<rect x="127.14" y="339.84" width="2.90" height="2.90" fill="#ff1a1a" stroke="none" stroke-width="1" />
<rect x="131.56" y="339.90" width="2.90" height="2.90" fill="#ff1a1a" stroke="none" stroke-width="1" />
<rect x="135.36" y="339.70" width="2.90" height="2.90" fill="#ff1a1a" stroke="none" stroke-width="1" />
<rect x="139.79" y="340.18" width="2.90" height="2.90" fill="#ff1a1a" stroke="none" stroke-width="1" />
<line x1="117.30" y1="336.10" x2="149.10" y2="336.10" stroke="#ff1a1a" stroke-width="1" />
<line x1="125.40" y1="330.30" x2="141.20" y2="330.30" stroke="#ff1a1a" stroke-width="0.9" />
<line x1="133.30" y1="330.30" x2="133.30" y2="336.10" stroke="#ff1a1a" stroke-width="0.9" />
<line x1="164.50" y1="304.10" x2="196.50" y2="304.10" stroke="#3fd43f" stroke-width="1" />
<line x1="172.70" y1="269.10" x2="187.70" y2="269.10" stroke="#3fd43f" stroke-width="0.9" />
<line x1="172.70" y1="339.00" x2="187.70" y2="339.00" stroke="#3fd43f" stroke-width="0.9" />
<line x1="180.50" y1="269.10" x2="180.50" y2="339.00" stroke="#3fd43f" stroke-width="0.9" />
<polygon points="178.80,239.83 182.20,239.83 180.50,236.77" fill="#3fd43f"/>
<polygon points="178.80,260.03 182.20,260.03 180.50,256.97" fill="#3fd43f"/>
<polygon points="172.70,284.03 176.10,284.03 174.40,280.97" fill="#3fd43f"/>
<polygon points="178.80,285.43 182.20,285.43 180.50,282.37" fill="#3fd43f"/>
<polygon points="178.80,292.23 182.20,292.23 180.50,289.17" fill="#3fd43f"/>
<polygon points="178.80,308.63 182.20,308.63 180.50,305.57" fill="#3fd43f"/>
<polygon points="184.60,307.63 188.00,307.63 186.30,304.57" fill="#3fd43f"/>
<polygon points="172.70,320.53 176.10,320.53 174.40,317.47" fill="#3fd43f"/>
<polygon points="178.80,318.93 182.20,318.93 180.50,315.87" fill="#3fd43f"/>
<polygon points="178.80,321.43 182.20,321.43 180.50,318.37" fill="#3fd43f"/>
<polygon points="172.70,328.63 176.10,328.63 174.40,325.57" fill="#3fd43f"/>
<polygon points="178.80,327.53 182.20,327.53 180.50,324.47" fill="#3fd43f"/>
<polygon points="178.80,330.83 182.20,330.83 180.50,327.77" fill="#3fd43f"/>
<polygon points="184.60,328.63 188.00,328.63 186.30,325.57" fill="#3fd43f"/>
<polygon points="178.80,336.43 182.20,336.43 180.50,333.37" fill="#3fd43f"/>
<polygon points="178.80,340.53 182.20,340.53 180.50,337.47" fill="#3fd43f"/>
<text x="231.85" y="225.90" font-size="15" text-anchor="start" font-weight="bold" font-style="normal" fill="#000" >E</text>
<line x1="259.20" y1="227.40" x2="259.20" y2="341.70" stroke="#222" stroke-width="0.9" />
<line x1="258.75" y1="341.70" x2="430.80" y2="341.70" stroke="#222" stroke-width="0.9" />
<line x1="255.50" y1="238.60" x2="259.20" y2="238.60" stroke="#222" stroke-width="0.8" />
<text x="254.50" y="241.60" font-size="8.3" text-anchor="end" font-weight="normal" font-style="normal" fill="#000" >100</text>
<line x1="255.50" y1="290.30" x2="259.20" y2="290.30" stroke="#222" stroke-width="0.8" />
<text x="254.50" y="293.30" font-size="8.3" text-anchor="end" font-weight="normal" font-style="normal" fill="#000" >50</text>
<line x1="255.50" y1="341.70" x2="259.20" y2="341.70" stroke="#222" stroke-width="0.8" />
<text x="254.50" y="344.70" font-size="8.3" text-anchor="end" font-weight="normal" font-style="normal" fill="#000" >0</text>
<line x1="259.20" y1="341.70" x2="259.20" y2="345.20" stroke="#222" stroke-width="0.8" />
<text x="259.20" y="355.00" font-size="8.3" text-anchor="middle" font-weight="normal" font-style="normal" fill="#000" >0</text>
<line x1="302.50" y1="341.70" x2="302.50" y2="345.20" stroke="#222" stroke-width="0.8" />
<text x="302.50" y="355.00" font-size="8.3" text-anchor="middle" font-weight="normal" font-style="normal" fill="#000" >20</text>
<line x1="345.80" y1="341.70" x2="345.80" y2="345.20" stroke="#222" stroke-width="0.8" />
<text x="345.80" y="355.00" font-size="8.3" text-anchor="middle" font-weight="normal" font-style="normal" fill="#000" >40</text>
<line x1="389.00" y1="341.70" x2="389.00" y2="345.20" stroke="#222" stroke-width="0.8" />
<text x="389.00" y="355.00" font-size="8.3" text-anchor="middle" font-weight="normal" font-style="normal" fill="#000" >60</text>
<text x="345.00" y="364.60" font-size="10" text-anchor="middle" font-weight="normal" font-style="normal" fill="#000" >Time (months)</text>
<text x="242.00" y="291.00" font-size="10" text-anchor="middle" font-weight="normal" font-style="normal" fill="#000" transform="rotate(-90 242 291)" >Percent survival</text>
<line x1="362.30" y1="232.80" x2="375.20" y2="232.80" stroke="#3535f0" stroke-width="1" />
<line x1="368.80" y1="231.30" x2="368.80" y2="232.80" stroke="#3535f0" stroke-width="0.8" />
<line x1="362.30" y1="243.80" x2="375.20" y2="243.80" stroke="#f04545" stroke-width="1" />
<line x1="368.80" y1="242.30" x2="368.80" y2="243.80" stroke="#f04545" stroke-width="0.8" />
<text x="382.00" y="236.00" font-size="8.5" text-anchor="start" font-weight="normal" font-style="normal" fill="#000" >THRAP3 Low</text>
<text x="382.00" y="247.00" font-size="8.5" text-anchor="start" font-weight="normal" font-style="normal" fill="#000" >THRAP3 High</text>
<text x="384.50" y="285.20" font-size="7.2" text-anchor="start" font-weight="normal" font-style="normal" fill="#000" ><tspan font-weight="bold" font-style="italic">p</tspan> = 0.0055</text>
<polyline points="259.20,238.70 278.10,238.70 278.10,242.40 286.70,242.40 286.70,251.60 292.80,251.60 292.80,256.70 300.00,256.70 300.00,261.80 315.30,261.80 315.30,266.90 321.40,266.90 321.40,272.40 337.80,272.40 337.80,278.10 351.50,278.10 351.50,283.90 362.30,283.90 362.30,290.40 366.40,290.40 366.40,296.90 381.70,296.90 381.70,308.40 388.90,308.40 388.90,308.40" fill="none" stroke="#f04545" stroke-width="1" />
<polyline points="259.20,238.70 280.50,238.70 280.50,240.30 291.80,240.30 291.80,242.20 297.90,242.20 297.90,244.40 306.10,244.40 306.10,247.10 316.30,247.10 316.30,249.10 327.60,249.10 327.60,252.20 347.00,252.20 347.00,256.30 373.10,256.30 373.10,265.30 388.90,265.30 388.90,265.30" fill="none" stroke="#3535f0" stroke-width="1" />
<line x1="281.50" y1="237.90" x2="281.50" y2="240.30" stroke="#3535f0" stroke-width="0.8" />
<line x1="293.00" y1="239.80" x2="293.00" y2="242.20" stroke="#3535f0" stroke-width="0.8" />
<line x1="295.00" y1="239.80" x2="295.00" y2="242.20" stroke="#3535f0" stroke-width="0.8" />
<line x1="297.00" y1="239.80" x2="297.00" y2="242.20" stroke="#3535f0" stroke-width="0.8" />
<line x1="299.50" y1="242.00" x2="299.50" y2="244.40" stroke="#3535f0" stroke-width="0.8" />
<line x1="302.00" y1="242.00" x2="302.00" y2="244.40" stroke="#3535f0" stroke-width="0.8" />
<line x1="304.00" y1="242.00" x2="304.00" y2="244.40" stroke="#3535f0" stroke-width="0.8" />
<line x1="308.00" y1="244.70" x2="308.00" y2="247.10" stroke="#3535f0" stroke-width="0.8" />
<line x1="318.00" y1="246.70" x2="318.00" y2="249.10" stroke="#3535f0" stroke-width="0.8" />
<line x1="320.00" y1="246.70" x2="320.00" y2="249.10" stroke="#3535f0" stroke-width="0.8" />
<line x1="322.00" y1="246.70" x2="322.00" y2="249.10" stroke="#3535f0" stroke-width="0.8" />
<line x1="324.00" y1="246.70" x2="324.00" y2="249.10" stroke="#3535f0" stroke-width="0.8" />
<line x1="326.00" y1="246.70" x2="326.00" y2="249.10" stroke="#3535f0" stroke-width="0.8" />
<line x1="330.00" y1="249.80" x2="330.00" y2="252.20" stroke="#3535f0" stroke-width="0.8" />
<line x1="332.00" y1="249.80" x2="332.00" y2="252.20" stroke="#3535f0" stroke-width="0.8" />
<line x1="334.00" y1="249.80" x2="334.00" y2="252.20" stroke="#3535f0" stroke-width="0.8" />
<line x1="337.00" y1="249.80" x2="337.00" y2="252.20" stroke="#3535f0" stroke-width="0.8" />
<line x1="339.00" y1="249.80" x2="339.00" y2="252.20" stroke="#3535f0" stroke-width="0.8" />
<line x1="343.00" y1="249.80" x2="343.00" y2="252.20" stroke="#3535f0" stroke-width="0.8" />
<line x1="345.00" y1="249.80" x2="345.00" y2="252.20" stroke="#3535f0" stroke-width="0.8" />
<line x1="347.00" y1="253.90" x2="347.00" y2="256.30" stroke="#3535f0" stroke-width="0.8" />
<line x1="357.00" y1="253.90" x2="357.00" y2="256.30" stroke="#3535f0" stroke-width="0.8" />
<line x1="359.00" y1="253.90" x2="359.00" y2="256.30" stroke="#3535f0" stroke-width="0.8" />
<line x1="363.00" y1="253.90" x2="363.00" y2="256.30" stroke="#3535f0" stroke-width="0.8" />
<line x1="365.00" y1="253.90" x2="365.00" y2="256.30" stroke="#3535f0" stroke-width="0.8" />
<line x1="367.00" y1="253.90" x2="367.00" y2="256.30" stroke="#3535f0" stroke-width="0.8" />
<line x1="376.00" y1="262.90" x2="376.00" y2="265.30" stroke="#3535f0" stroke-width="0.8" />
<line x1="378.00" y1="262.90" x2="378.00" y2="265.30" stroke="#3535f0" stroke-width="0.8" />
<line x1="386.00" y1="262.90" x2="386.00" y2="265.30" stroke="#3535f0" stroke-width="0.8" />
<line x1="388.00" y1="262.90" x2="388.00" y2="265.30" stroke="#3535f0" stroke-width="0.8" />
<line x1="263.00" y1="236.30" x2="263.00" y2="238.70" stroke="#f04545" stroke-width="0.8" />
<line x1="267.00" y1="236.30" x2="267.00" y2="238.70" stroke="#f04545" stroke-width="0.8" />
<line x1="270.00" y1="236.30" x2="270.00" y2="238.70" stroke="#f04545" stroke-width="0.8" />
<line x1="272.00" y1="236.30" x2="272.00" y2="238.70" stroke="#f04545" stroke-width="0.8" />
<line x1="274.00" y1="236.30" x2="274.00" y2="238.70" stroke="#f04545" stroke-width="0.8" />
<line x1="276.00" y1="236.30" x2="276.00" y2="238.70" stroke="#f04545" stroke-width="0.8" />
<line x1="295.00" y1="254.30" x2="295.00" y2="256.70" stroke="#f04545" stroke-width="0.8" />
<line x1="307.00" y1="259.40" x2="307.00" y2="261.80" stroke="#f04545" stroke-width="0.8" />
<line x1="337.00" y1="270.00" x2="337.00" y2="272.40" stroke="#f04545" stroke-width="0.8" />
<line x1="354.50" y1="281.50" x2="354.50" y2="283.90" stroke="#f04545" stroke-width="0.8" />
<line x1="373.00" y1="294.50" x2="373.00" y2="296.90" stroke="#f04545" stroke-width="0.8" />
<line x1="384.00" y1="306.00" x2="384.00" y2="308.40" stroke="#f04545" stroke-width="0.8" />
<line x1="387.00" y1="306.00" x2="387.00" y2="308.40" stroke="#f04545" stroke-width="0.8" />
<text x="454.60" y="225.70" font-size="15" text-anchor="start" font-weight="bold" font-style="normal" fill="#000" >G</text>
<line x1="495.60" y1="228.20" x2="495.60" y2="340.30" stroke="#222" stroke-width="0.9" />
<line x1="495.15" y1="340.30" x2="643.30" y2="340.30" stroke="#222" stroke-width="0.9" />
<line x1="488.90" y1="228.60" x2="495.50" y2="228.60" stroke="#222" stroke-width="0.8" />
<text x="486.60" y="231.70" font-size="8.8" text-anchor="end" font-weight="normal" font-style="normal" fill="#000" >8</text>
<line x1="488.90" y1="256.50" x2="495.50" y2="256.50" stroke="#222" stroke-width="0.8" />
<text x="486.60" y="259.60" font-size="8.8" text-anchor="end" font-weight="normal" font-style="normal" fill="#000" >6</text>
<line x1="488.90" y1="284.40" x2="495.50" y2="284.40" stroke="#222" stroke-width="0.8" />
<text x="486.60" y="287.50" font-size="8.8" text-anchor="end" font-weight="normal" font-style="normal" fill="#000" >4</text>
<line x1="488.90" y1="312.40" x2="495.50" y2="312.40" stroke="#222" stroke-width="0.8" />
<text x="486.60" y="315.50" font-size="8.8" text-anchor="end" font-weight="normal" font-style="normal" fill="#000" >2</text>
<line x1="488.90" y1="340.30" x2="495.50" y2="340.30" stroke="#222" stroke-width="0.8" />
<text x="486.60" y="343.40" font-size="8.8" text-anchor="end" font-weight="normal" font-style="normal" fill="#000" >0</text>
<text x="467.60" y="284.50" font-size="10" text-anchor="middle" font-weight="normal" font-style="normal" fill="#000" transform="rotate(-90 467.6 284.5)" >Relative mRNA level</text>
<text x="478.50" y="286.30" font-size="10" text-anchor="middle" font-weight="normal" font-style="normal" fill="#000" transform="rotate(-90 478.5 286.3)" >of THRAP3</text>
<rect x="502.40" y="326.50" width="13.00" height="13.80" fill="#fff" stroke="#000" stroke-width="0.9" />
<line x1="508.90" y1="340.30" x2="508.90" y2="345.00" stroke="#222" stroke-width="0.8" />
<text x="0" y="0" font-size="10" text-anchor="end" transform="translate(510.8 350) rotate(-45)" fill="#000">BMSCs</text>
<rect x="521.90" y="327.60" width="13.80" height="12.70" fill="#9dc8f5" stroke="none" stroke-width="1" />
<line x1="528.80" y1="340.30" x2="528.80" y2="345.00" stroke="#222" stroke-width="0.8" />
<text x="0" y="0" font-size="10" text-anchor="end" transform="translate(529.9 352.2) rotate(-45)" fill="#000">BMMNCs</text>
<rect x="542.10" y="326.50" width="13.80" height="13.80" fill="#78f5b8" stroke="none" stroke-width="1" />
<line x1="549.00" y1="340.30" x2="549.00" y2="345.00" stroke="#222" stroke-width="0.8" />
<text x="0" y="0" font-size="10" text-anchor="end" transform="translate(552.9 352.2) rotate(-45)" fill="#000">HS-5</text>
<rect x="562.20" y="261.50" width="13.80" height="78.80" fill="#f53b3f" stroke="none" stroke-width="1" />
<line x1="569.10" y1="340.30" x2="569.10" y2="345.00" stroke="#222" stroke-width="0.8" />
<text x="0" y="0" font-size="10" text-anchor="end" transform="translate(574.5 352.5) rotate(-45)" fill="#000">THP-1</text>
<rect x="582.10" y="309.00" width="13.80" height="31.30" fill="#ee9a48" stroke="none" stroke-width="1" />
<line x1="589.00" y1="340.30" x2="589.00" y2="345.00" stroke="#222" stroke-width="0.8" />
<text x="0" y="0" font-size="10" text-anchor="end" transform="translate(595 351.8) rotate(-45)" fill="#000">HL-60</text>
<rect x="602.30" y="279.40" width="13.80" height="60.90" fill="#e2b07a" stroke="none" stroke-width="1" />
<line x1="609.20" y1="340.30" x2="609.20" y2="345.00" stroke="#222" stroke-width="0.8" />
<text x="0" y="0" font-size="10" text-anchor="end" transform="translate(613.5 352.5) rotate(-45)" fill="#000">NB-4</text>
<rect x="622.40" y="274.40" width="13.80" height="65.90" fill="#f54cf5" stroke="none" stroke-width="1" />
<line x1="629.30" y1="340.30" x2="629.30" y2="345.00" stroke="#222" stroke-width="0.8" />
<text x="0" y="0" font-size="10" text-anchor="end" transform="translate(632.5 351.5) rotate(-45)" fill="#000">KG-1</text>
<circle cx="504.50" cy="325.80" r="2.2" fill="#000"/>
<circle cx="509.00" cy="325.80" r="2.2" fill="#000"/>
<circle cx="513.50" cy="325.80" r="2.2" fill="#000"/>
<rect x="523.10" y="327.90" width="3.80" height="3.80" fill="#000" stroke="none" stroke-width="1" />
<rect x="527.00" y="321.40" width="3.80" height="3.80" fill="#000" stroke="none" stroke-width="1" />
<rect x="531.90" y="324.10" width="3.80" height="3.80" fill="#000" stroke="none" stroke-width="1" />
<line x1="528.90" y1="323.30" x2="528.90" y2="330.00" stroke="#000" stroke-width="0.8" />
<polygon points="542.80,327.58 547.20,327.58 545.00,323.62" fill="#000"/>
<polygon points="546.80,327.58 551.20,327.58 549.00,323.62" fill="#000"/>
<polygon points="550.80,327.58 555.20,327.58 553.00,323.62" fill="#000"/>
<line x1="569.10" y1="248.80" x2="569.10" y2="275.00" stroke="#000" stroke-width="0.9" />
<line x1="565.50" y1="248.80" x2="572.70" y2="248.80" stroke="#000" stroke-width="0.9" />
<polygon points="566.80,249.93 571.40,249.93 569.10,254.07" fill="#000"/>
<polygon points="566.80,253.73 571.40,253.73 569.10,257.87" fill="#000"/>
<polygon points="566.80,272.93 571.40,272.93 569.10,277.07" fill="#000"/>
<text x="569.10" y="250.30" font-size="10" text-anchor="middle" font-weight="normal" font-style="normal" fill="#000" >***</text>
<line x1="589.20" y1="302.50" x2="589.20" y2="313.40" stroke="#000" stroke-width="0.9" />
<line x1="585.70" y1="313.40" x2="592.70" y2="313.40" stroke="#000" stroke-width="0.9" />
<polygon points="586.90,304.87 591.50,304.87 589.20,300.73" fill="#000"/>
<polygon points="581.9,312.3 584.3,309.90000000000003 586.6999999999999,312.3 584.3,314.7" fill="#000"/>
<polygon points="591.1,310 593.5,307.6 595.9,310 593.5,312.4" fill="#000"/>
<text x="589.20" y="303.50" font-size="10" text-anchor="middle" font-weight="normal" font-style="normal" fill="#000" >*</text>
<line x1="605.70" y1="278.30" x2="612.70" y2="278.30" stroke="#000" stroke-width="0.8" />
<circle cx="604.5" cy="280" r="2" fill="#f2d2ac" stroke="#000" stroke-width="0.7"/>
<circle cx="609.2" cy="277.5" r="2" fill="#f2d2ac" stroke="#000" stroke-width="0.7"/>
<circle cx="613.5" cy="279.5" r="2" fill="#f2d2ac" stroke="#000" stroke-width="0.7"/>
<text x="609.20" y="274.30" font-size="10" text-anchor="middle" font-weight="normal" font-style="normal" fill="#000" >***</text>
<rect x="623.6" y="273.6" width="3.8" height="3.8" fill="#f6a8f6" stroke="#000" stroke-width="0.7"/>
<rect x="627.4" y="270.90000000000003" width="3.8" height="3.8" fill="#f6a8f6" stroke="#000" stroke-width="0.7"/>
<rect x="631.6" y="273.1" width="3.8" height="3.8" fill="#f6a8f6" stroke="#000" stroke-width="0.7"/>
<text x="629.30" y="273.30" font-size="10" text-anchor="middle" font-weight="normal" font-style="normal" fill="#000" >***</text>
<text x="14.75" y="402.30" font-size="15" text-anchor="start" font-weight="bold" font-style="normal" fill="#000" >F</text>
<defs><filter id="bl1" x="-30%" y="-60%" width="160%" height="220%"><feGaussianBlur stdDeviation="1.3"/></filter><filter id="bl2" x="-30%" y="-60%" width="160%" height="220%"><feGaussianBlur stdDeviation="0.8"/></filter><filter id="bl3"><feGaussianBlur stdDeviation="1.0"/></filter></defs>
<text x="47.50" y="446.80" font-size="9" text-anchor="middle" font-weight="normal" font-style="normal" fill="#000" >N1</text>
<text x="69.50" y="446.80" font-size="9" text-anchor="middle" font-weight="normal" font-style="normal" fill="#000" >A1</text>
<text x="88.50" y="446.80" font-size="9" text-anchor="middle" font-weight="normal" font-style="normal" fill="#000" >N2</text>
<text x="106.00" y="446.80" font-size="9" text-anchor="middle" font-weight="normal" font-style="normal" fill="#000" >A2</text>
<text x="126.50" y="446.80" font-size="9" text-anchor="middle" font-weight="normal" font-style="normal" fill="#000" >N3</text>
<text x="144.50" y="446.80" font-size="9" text-anchor="middle" font-weight="normal" font-style="normal" fill="#000" >A3</text>
<text x="165.50" y="446.80" font-size="9" text-anchor="middle" font-weight="normal" font-style="normal" fill="#000" >N4</text>
<text x="184.00" y="446.80" font-size="9" text-anchor="middle" font-weight="normal" font-style="normal" fill="#000" >A4</text>
<text x="203.20" y="446.80" font-size="9" text-anchor="middle" font-weight="normal" font-style="normal" fill="#000" >N5</text>
<text x="222.00" y="446.80" font-size="9" text-anchor="middle" font-weight="normal" font-style="normal" fill="#000" >A5</text>
<text x="240.50" y="446.80" font-size="9" text-anchor="middle" font-weight="normal" font-style="normal" fill="#000" >N6</text>
<text x="261.00" y="446.80" font-size="9" text-anchor="middle" font-weight="normal" font-style="normal" fill="#000" >A6</text>
<clipPath id="c1"><rect x="36.8" y="451.3" width="236.5" height="16.30000000000001"/></clipPath>
<g clip-path="url(#c1)">
<rect x="36.80" y="451.30" width="236.50" height="16.30" fill="#a8a8a8" stroke="none" stroke-width="1" />
<g filter="url(#bl3)">
<rect x="37.30" y="448.30" width="20.50" height="22.30" fill="#858585" stroke="none" stroke-width="1" />
<rect x="62.00" y="448.30" width="15.50" height="22.30" fill="#3a3a3a" stroke="none" stroke-width="1" />
<rect x="79.50" y="448.30" width="20.00" height="22.30" fill="#8a8a8a" stroke="none" stroke-width="1" />
<rect x="101.00" y="448.30" width="15.00" height="22.30" fill="#4a4a4a" stroke="none" stroke-width="1" />
<rect x="120.00" y="448.30" width="15.70" height="22.30" fill="#858585" stroke="none" stroke-width="1" />
<rect x="138.40" y="448.30" width="14.40" height="22.30" fill="#050505" stroke="none" stroke-width="1" />
<rect x="157.00" y="448.30" width="18.00" height="22.30" fill="#909090" stroke="none" stroke-width="1" />
<rect x="177.20" y="448.30" width="14.60" height="22.30" fill="#6a6a6a" stroke="none" stroke-width="1" />
<rect x="195.40" y="448.30" width="16.80" height="22.30" fill="#959595" stroke="none" stroke-width="1" />
<rect x="215.10" y="448.30" width="14.60" height="22.30" fill="#4a4a4a" stroke="none" stroke-width="1" />
<rect x="233.40" y="448.30" width="17.50" height="22.30" fill="#a0a0a0" stroke="none" stroke-width="1" />
<rect x="254.60" y="448.30" width="13.80" height="22.30" fill="#5a5a5a" stroke="none" stroke-width="1" />
</g>
<g filter="url(#bl2)">
<rect x="37.599999999999994" y="455.5" width="19.9" height="7.0" rx="2.5" fill="#121212"/>
<rect x="62.3" y="453.5" width="14.9" height="10.5" rx="2.5" fill="#1a1a1a"/>
<rect x="79.8" y="459.8" width="19.4" height="3.6999999999999886" rx="2.5" fill="#2a2a2a"/>
<rect x="101.3" y="454" width="14.4" height="9" rx="2.5" fill="#1e1e1e"/>
<rect x="120.3" y="457.5" width="15.099999999999989" height="5.199999999999989" rx="2.5" fill="#222"/>
<rect x="138.70000000000002" y="451" width="13.800000000000006" height="17" rx="2.5" fill="#000"/>
<rect x="157.3" y="458.8" width="17.4" height="3.8999999999999773" rx="2.5" fill="#2a2a2a"/>
<rect x="177.5" y="456" width="14.000000000000023" height="5.800000000000011" rx="2.5" fill="#2e2e2e"/>
<rect x="195.70000000000002" y="459.6" width="16.19999999999998" height="2.8999999999999773" rx="2.5" fill="#222"/>
<rect x="215.4" y="456" width="13.999999999999995" height="5.100000000000023" rx="2.5" fill="#151515"/>
<rect x="233.70000000000002" y="459.6" width="16.9" height="2.599999999999966" rx="2.5" fill="#555"/>
<rect x="254.9" y="455" width="13.199999999999983" height="8" rx="2.5" fill="#1a1a1a"/>
</g>
<line x1="36.80" y1="451.90" x2="273.30" y2="451.90" stroke="#3a3a3a" stroke-width="1.2" />
</g>
<rect x="36.80" y="451.30" width="236.50" height="16.30" fill="none" stroke="#555" stroke-width="0.9" />
<clipPath id="c2"><rect x="36.8" y="471.9" width="236.5" height="15.5"/></clipPath>
<g clip-path="url(#c2)">
<rect x="36.80" y="471.90" width="236.50" height="15.50" fill="#e2e2e2" stroke="none" stroke-width="1" />
<line x1="36.80" y1="472.70" x2="273.30" y2="472.70" stroke="#9a9a9a" stroke-width="1.4" />
<g filter="url(#bl2)">
<rect x="39.6" y="475.1" width="18.8" height="8" rx="3.6" fill="#050505"/>
<rect x="59.1" y="475.1" width="18.8" height="8" rx="3.6" fill="#050505"/>
<rect x="78.6" y="475.1" width="18.8" height="8" rx="3.6" fill="#050505"/>
<rect x="98.1" y="475.1" width="18.8" height="8" rx="3.6" fill="#050505"/>
<rect x="117.6" y="475.1" width="18.8" height="8" rx="3.6" fill="#050505"/>
<rect x="137.1" y="475.1" width="18.8" height="8" rx="3.6" fill="#050505"/>
<rect x="156.6" y="475.1" width="18.8" height="8" rx="3.6" fill="#050505"/>
<rect x="176.1" y="475.1" width="18.8" height="8" rx="3.6" fill="#050505"/>
<rect x="195.6" y="475.1" width="18.8" height="8" rx="3.6" fill="#050505"/>
<rect x="215.1" y="475.1" width="18.8" height="8" rx="3.6" fill="#050505"/>
<rect x="234.6" y="475.1" width="18.8" height="8" rx="3.6" fill="#050505"/>
<rect x="254.1" y="475.1" width="18.8" height="8" rx="3.6" fill="#050505"/>
</g></g>
<rect x="36.80" y="471.90" width="236.50" height="15.50" fill="none" stroke="#555" stroke-width="0.9" />
<text x="274.30" y="450.60" font-size="9.5" text-anchor="start" font-weight="normal" font-style="normal" fill="#000" >kDa</text>
<text x="275.30" y="464.60" font-size="10" text-anchor="start" font-weight="normal" font-style="normal" fill="#000" >150</text>
<text x="275.30" y="483.30" font-size="10" text-anchor="start" font-weight="normal" font-style="normal" fill="#000" >37</text>
<text x="0.60" y="461.70" font-size="8.8" text-anchor="start" font-weight="normal" font-style="normal" fill="#000" >THRAP3</text>
<text x="3.70" y="482.00" font-size="8.8" text-anchor="start" font-weight="normal" font-style="normal" fill="#000" >GAPDH</text>
<text x="48.70" y="513.30" font-size="9" text-anchor="middle" font-weight="normal" font-style="normal" fill="#000" >N7</text>
<text x="70.90" y="513.30" font-size="9" text-anchor="middle" font-weight="normal" font-style="normal" fill="#000" >A7</text>
<text x="91.90" y="513.30" font-size="9" text-anchor="middle" font-weight="normal" font-style="normal" fill="#000" >N8</text>
<text x="110.30" y="513.30" font-size="9" text-anchor="middle" font-weight="normal" font-style="normal" fill="#000" >A8</text>
<text x="129.60" y="513.30" font-size="9" text-anchor="middle" font-weight="normal" font-style="normal" fill="#000" >N9</text>
<text x="148.20" y="513.30" font-size="9" text-anchor="middle" font-weight="normal" font-style="normal" fill="#000" >A9</text>
<text x="166.50" y="513.30" font-size="9" text-anchor="middle" font-weight="normal" font-style="normal" fill="#000" >N10</text>
<text x="186.00" y="513.30" font-size="9" text-anchor="middle" font-weight="normal" font-style="normal" fill="#000" >A10</text>
<text x="207.80" y="513.30" font-size="9" text-anchor="middle" font-weight="normal" font-style="normal" fill="#000" >N11</text>
<text x="226.90" y="513.30" font-size="9" text-anchor="middle" font-weight="normal" font-style="normal" fill="#000" >A11</text>
<text x="246.30" y="513.30" font-size="9" text-anchor="middle" font-weight="normal" font-style="normal" fill="#000" >N12</text>
<text x="266.20" y="513.30" font-size="9" text-anchor="middle" font-weight="normal" font-style="normal" fill="#000" >A12</text>
<clipPath id="c3"><rect x="36.8" y="513.7" width="236.39999999999998" height="16.09999999999991"/></clipPath>
<g clip-path="url(#c3)">
<rect x="36.80" y="513.70" width="236.40" height="16.10" fill="#7a7a7a" stroke="none" stroke-width="1" />
<g filter="url(#bl3)">
<rect x="37.60" y="510.70" width="20.20" height="22.10" fill="#686868" stroke="none" stroke-width="1" />
<rect x="62.20" y="510.70" width="14.80" height="22.10" fill="#353535" stroke="none" stroke-width="1" />
<rect x="78.80" y="510.70" width="21.00" height="22.10" fill="#5a5a5a" stroke="none" stroke-width="1" />
<rect x="102.40" y="510.70" width="13.20" height="22.10" fill="#2a2a2a" stroke="none" stroke-width="1" />
<rect x="117.30" y="510.70" width="21.10" height="22.10" fill="#4a4a4a" stroke="none" stroke-width="1" />
<rect x="141.90" y="510.70" width="11.70" height="22.10" fill="#353535" stroke="none" stroke-width="1" />
<rect x="155.50" y="510.70" width="19.10" height="22.10" fill="#4a4a4a" stroke="none" stroke-width="1" />
<rect x="178.30" y="510.70" width="14.60" height="22.10" fill="#0a0a0a" stroke="none" stroke-width="1" />
<rect x="197.40" y="510.70" width="15.60" height="22.10" fill="#2a2a2a" stroke="none" stroke-width="1" />
<rect x="217.50" y="510.70" width="13.70" height="22.10" fill="#303030" stroke="none" stroke-width="1" />
<rect x="233.00" y="510.70" width="16.50" height="22.10" fill="#4a4a4a" stroke="none" stroke-width="1" />
<rect x="255.80" y="510.70" width="16.50" height="22.10" fill="#151515" stroke="none" stroke-width="1" />
</g>
<g filter="url(#bl2)">
<rect x="37.9" y="521" width="19.599999999999994" height="4" rx="2.5" fill="#454545"/>
<rect x="62.5" y="520" width="14.199999999999998" height="6" rx="2.5" fill="#2c2c2c"/>
<rect x="79.1" y="521" width="20.4" height="4" rx="2.5" fill="#3a3a3a"/>
<rect x="102.7" y="520" width="12.599999999999989" height="6" rx="2.5" fill="#222"/>
<rect x="117.6" y="521" width="20.500000000000007" height="4" rx="2.5" fill="#303030"/>
<rect x="142.20000000000002" y="520" width="11.099999999999989" height="6" rx="2.5" fill="#2a2a2a"/>
<rect x="155.8" y="521" width="18.499999999999993" height="4" rx="2.5" fill="#333"/>
<rect x="178.60000000000002" y="514" width="13.999999999999995" height="16" rx="2.5" fill="#000"/>
<rect x="197.70000000000002" y="519" width="14.999999999999995" height="7" rx="2.5" fill="#1a1a1a"/>
<rect x="217.8" y="520" width="13.099999999999989" height="6" rx="2.5" fill="#222"/>
<rect x="233.3" y="521" width="15.9" height="4" rx="2.5" fill="#383838"/>
<rect x="256.1" y="519" width="15.9" height="8" rx="2.5" fill="#0a0a0a"/>
</g>
<line x1="36.80" y1="514.30" x2="273.20" y2="514.30" stroke="#3a3a3a" stroke-width="1.2" />
</g>
<rect x="36.80" y="513.70" width="236.40" height="16.10" fill="none" stroke="#555" stroke-width="0.9" />
<clipPath id="c4"><rect x="36.8" y="533.5" width="236.39999999999998" height="16.100000000000023"/></clipPath>
<g clip-path="url(#c4)">
<rect x="36.80" y="533.50" width="236.40" height="16.10" fill="#e2e2e2" stroke="none" stroke-width="1" />
<line x1="36.80" y1="534.30" x2="273.20" y2="534.30" stroke="#9a9a9a" stroke-width="1.4" />
<g filter="url(#bl2)">
<rect x="38.8" y="537.5" width="19.2" height="9.0" rx="4.05" fill="#050505"/>
<rect x="58.35" y="537.5" width="19.2" height="9.0" rx="4.05" fill="#050505"/>
<rect x="77.9" y="537.5" width="19.2" height="9.0" rx="4.05" fill="#050505"/>
<rect x="97.45000000000002" y="537.5" width="19.2" height="9.0" rx="4.05" fill="#050505"/>
<rect x="117.0" y="537.5" width="19.2" height="9.0" rx="4.05" fill="#050505"/>
<rect x="136.55" y="537.5" width="19.2" height="9.0" rx="4.05" fill="#050505"/>
<rect x="156.10000000000002" y="537.5" width="19.2" height="9.0" rx="4.05" fill="#050505"/>
<rect x="175.65" y="537.5" width="19.2" height="9.0" rx="4.05" fill="#050505"/>
<rect x="195.20000000000002" y="537.5" width="19.2" height="9.0" rx="4.05" fill="#050505"/>
<rect x="214.75000000000003" y="537.5" width="19.2" height="9.0" rx="4.05" fill="#050505"/>
<rect x="234.3" y="537.5" width="19.2" height="9.0" rx="4.05" fill="#050505"/>
<rect x="253.85" y="537.5" width="19.2" height="9.0" rx="4.05" fill="#050505"/>
</g></g>
<rect x="36.80" y="533.50" width="236.40" height="16.10" fill="none" stroke="#555" stroke-width="0.9" />
<text x="275.30" y="525.80" font-size="10" text-anchor="start" font-weight="normal" font-style="normal" fill="#000" >150</text>
<text x="275.30" y="544.50" font-size="10" text-anchor="start" font-weight="normal" font-style="normal" fill="#000" >37</text>
<text x="0.60" y="523.90" font-size="8.8" text-anchor="start" font-weight="normal" font-style="normal" fill="#000" >THRAP3</text>
<text x="3.70" y="544.30" font-size="8.8" text-anchor="start" font-weight="normal" font-style="normal" fill="#000" >GAPDH</text>
<line x1="335.30" y1="434.30" x2="335.30" y2="546.80" stroke="#222" stroke-width="0.9" />
<line x1="334.85" y1="546.80" x2="475.80" y2="546.80" stroke="#222" stroke-width="0.9" />
<line x1="330.30" y1="435.30" x2="335.30" y2="435.30" stroke="#222" stroke-width="0.8" />
<text x="328.90" y="438.40" font-size="8.8" text-anchor="end" font-weight="normal" font-style="normal" fill="#000" >0.4</text>
<line x1="330.30" y1="463.00" x2="335.30" y2="463.00" stroke="#222" stroke-width="0.8" />
<text x="328.90" y="466.10" font-size="8.8" text-anchor="end" font-weight="normal" font-style="normal" fill="#000" >0.3</text>
<line x1="330.30" y1="491.00" x2="335.30" y2="491.00" stroke="#222" stroke-width="0.8" />
<text x="328.90" y="494.10" font-size="8.8" text-anchor="end" font-weight="normal" font-style="normal" fill="#000" >0.2</text>
<line x1="330.30" y1="518.90" x2="335.30" y2="518.90" stroke="#222" stroke-width="0.8" />
<text x="328.90" y="522.00" font-size="8.8" text-anchor="end" font-weight="normal" font-style="normal" fill="#000" >0.1</text>
<line x1="330.30" y1="546.60" x2="335.30" y2="546.60" stroke="#222" stroke-width="0.8" />
<text x="328.90" y="549.70" font-size="8.8" text-anchor="end" font-weight="normal" font-style="normal" fill="#000" >0.0</text>
<line x1="375.20" y1="546.80" x2="375.20" y2="550.30" stroke="#222" stroke-width="0.8" />
<line x1="435.40" y1="546.80" x2="435.40" y2="550.30" stroke="#222" stroke-width="0.8" />
<text x="376.00" y="564.60" font-size="10" text-anchor="middle" font-weight="normal" font-style="normal" fill="#000" >Normal</text>
<text x="439.20" y="564.80" font-size="10" text-anchor="middle" font-weight="normal" font-style="normal" fill="#000" >AML</text>
<text x="302.60" y="491.60" font-size="10" text-anchor="middle" font-weight="normal" font-style="normal" fill="#000" transform="rotate(-90 302.6 491.6)" >Relative protein level</text>
<text x="314.80" y="492.00" font-size="10" text-anchor="middle" font-weight="normal" font-style="normal" fill="#000" transform="rotate(-90 314.8 492)" >of THRAP3</text>
<polyline points="375.20,456.70 375.20,443.80 435.40,443.80 435.40,447.40" fill="none" stroke="#222" stroke-width="0.8" />
<text x="406.10" y="445.00" font-size="10" text-anchor="middle" font-weight="normal" font-style="normal" fill="#000" >**</text>
<circle cx="380.90" cy="492.30" r="2.6" fill="#1010ff"/>
<circle cx="357.90" cy="500.90" r="2.6" fill="#1010ff"/>
<circle cx="368.80" cy="505.20" r="2.6" fill="#1010ff"/>
<circle cx="380.90" cy="503.20" r="2.6" fill="#1010ff"/>
<circle cx="392.40" cy="502.30" r="2.6" fill="#1010ff"/>
<circle cx="380.90" cy="511.80" r="2.6" fill="#1010ff"/>
<circle cx="368.80" cy="524.70" r="2.6" fill="#1010ff"/>
<circle cx="380.90" cy="522.40" r="2.6" fill="#1010ff"/>
<circle cx="368.80" cy="531.00" r="2.6" fill="#1010ff"/>
<circle cx="380.90" cy="529.90" r="2.6" fill="#1010ff"/>
<circle cx="368.80" cy="538.20" r="2.6" fill="#1010ff"/>
<circle cx="380.90" cy="534.80" r="2.6" fill="#1010ff"/>
<line x1="354.50" y1="516.10" x2="395.50" y2="516.10" stroke="#222" stroke-width="0.9" />
<line x1="365.40" y1="500.90" x2="385.50" y2="500.90" stroke="#7a7aff" stroke-width="0.9" />
<line x1="365.40" y1="531.90" x2="385.50" y2="531.90" stroke="#7a7aff" stroke-width="0.9" />
<line x1="375.20" y1="500.90" x2="375.20" y2="531.90" stroke="#7a7aff" stroke-width="0.9" />
<circle cx="435.40" cy="459.50" r="2.6" fill="#ff1a1a"/>
<circle cx="435.40" cy="474.40" r="2.6" fill="#ff1a1a"/>
<circle cx="424.30" cy="486.80" r="2.6" fill="#ff1a1a"/>
<circle cx="435.40" cy="488.20" r="2.6" fill="#ff1a1a"/>
<circle cx="446.10" cy="486.20" r="2.6" fill="#ff1a1a"/>
<circle cx="435.40" cy="494.30" r="2.6" fill="#ff1a1a"/>
<circle cx="424.30" cy="500.30" r="2.6" fill="#ff1a1a"/>
<circle cx="435.40" cy="503.00" r="2.6" fill="#ff1a1a"/>
<circle cx="424.30" cy="509.40" r="2.6" fill="#ff1a1a"/>
<circle cx="446.10" cy="509.40" r="2.6" fill="#ff1a1a"/>
<circle cx="435.40" cy="511.40" r="2.6" fill="#ff1a1a"/>
<circle cx="435.40" cy="518.90" r="2.6" fill="#ff1a1a"/>
<line x1="415.20" y1="495.30" x2="455.60" y2="495.30" stroke="#222" stroke-width="0.9" />
<line x1="425.30" y1="478.50" x2="445.50" y2="478.50" stroke="#ff6a6a" stroke-width="0.9" />
<line x1="425.30" y1="512.50" x2="445.50" y2="512.50" stroke="#ff6a6a" stroke-width="0.9" />
<line x1="435.40" y1="478.50" x2="435.40" y2="512.50" stroke="#ff6a6a" stroke-width="0.9" />
<text x="460.05" y="397.80" font-size="15" text-anchor="start" font-weight="bold" font-style="normal" fill="#000" >H</text>
<clipPath id="c5"><rect x="520.1" y="395.2" width="143.29999999999995" height="16.100000000000023"/></clipPath>
<g clip-path="url(#c5)">
<rect x="520.10" y="395.20" width="143.30" height="16.10" fill="#c4c4c4" stroke="none" stroke-width="1" />
<g filter="url(#bl3)">
<rect x="522.40" y="392.20" width="15.60" height="22.10" fill="#a0a0a0" stroke="none" stroke-width="1" />
<rect x="543.50" y="392.20" width="14.90" height="22.10" fill="#a4a4a4" stroke="none" stroke-width="1" />
<rect x="564.00" y="392.20" width="14.30" height="22.10" fill="#a4a4a4" stroke="none" stroke-width="1" />
<rect x="583.70" y="392.20" width="15.50" height="22.10" fill="#8a8a8a" stroke="none" stroke-width="1" />
<rect x="604.20" y="392.20" width="14.90" height="22.10" fill="#a0a0a0" stroke="none" stroke-width="1" />
<rect x="624.70" y="392.20" width="14.90" height="22.10" fill="#959595" stroke="none" stroke-width="1" />
<rect x="645.10" y="392.20" width="14.90" height="22.10" fill="#959595" stroke="none" stroke-width="1" />
</g>
<g filter="url(#bl2)">
<rect x="522.6999999999999" y="402.4" width="15.000000000000023" height="5.0" rx="2.5" fill="#0c0c0c"/>
<rect x="543.8" y="402.4" width="14.299999999999978" height="5.0" rx="2.5" fill="#101010"/>
<rect x="564.3" y="402.4" width="13.699999999999955" height="4.800000000000011" rx="2.5" fill="#121212"/>
<rect x="584.0" y="399.9" width="14.9" height="7.7000000000000455" rx="2.5" fill="#050505"/>
<rect x="604.5" y="401.8" width="14.299999999999978" height="5.0" rx="2.5" fill="#101010"/>
<rect x="625.0" y="399.9" width="14.299999999999978" height="7.5" rx="2.5" fill="#080808"/>
<rect x="645.4" y="399.9" width="14.299999999999978" height="6.900000000000034" rx="2.5" fill="#0a0a0a"/>
</g>
<line x1="520.10" y1="395.80" x2="663.40" y2="395.80" stroke="#3a3a3a" stroke-width="1.2" />
</g>
<rect x="520.10" y="395.20" width="143.30" height="16.10" fill="none" stroke="#444" stroke-width="0.9" />
<clipPath id="c6"><rect x="520.1" y="413.8" width="142.8" height="16.5"/></clipPath><g clip-path="url(#c6)">
<rect x="520.10" y="413.80" width="142.80" height="16.50" fill="#ececec" stroke="none" stroke-width="1" />
<line x1="520.10" y1="414.60" x2="663.00" y2="414.60" stroke="#bdbdbd" stroke-width="1.4" />
<g filter="url(#bl2)">
<polygon points="521,418.8 560,419.3 600,419.9 640,420.3 663,420.4 663,425 640,424.9 600,424.5 560,424 521,423.8" fill="#030303"/>
</g></g>
<rect x="520.10" y="413.80" width="142.80" height="16.50" fill="none" stroke="#555" stroke-width="0.9" />
<text x="518.60" y="407.20" font-size="9.8" text-anchor="end" font-weight="normal" font-style="normal" fill="#000" >THRAP3</text>
<text x="518.60" y="424.40" font-size="9.8" text-anchor="end" font-weight="normal" font-style="normal" fill="#000" >GAPDH</text>
<text x="666.60" y="394.40" font-size="9.6" text-anchor="start" font-weight="normal" font-style="normal" fill="#000" >kDa</text>
<text x="665.80" y="407.60" font-size="10.3" text-anchor="start" font-weight="normal" font-style="normal" fill="#000" >150</text>
<text x="665.90" y="424.60" font-size="10.3" text-anchor="start" font-weight="normal" font-style="normal" fill="#000" >37</text>
<line x1="519.00" y1="434.40" x2="519.00" y2="546.80" stroke="#222" stroke-width="0.9" />
<line x1="518.45" y1="546.80" x2="666.50" y2="546.80" stroke="#222" stroke-width="0.9" />
<line x1="514.10" y1="434.90" x2="518.90" y2="434.90" stroke="#222" stroke-width="0.8" />
<text x="513.30" y="438.00" font-size="8.8" text-anchor="end" font-weight="normal" font-style="normal" fill="#000" >0.8</text>
<line x1="514.10" y1="463.10" x2="518.90" y2="463.10" stroke="#222" stroke-width="0.8" />
<text x="513.30" y="466.20" font-size="8.8" text-anchor="end" font-weight="normal" font-style="normal" fill="#000" >0.6</text>
<line x1="514.10" y1="490.70" x2="518.90" y2="490.70" stroke="#222" stroke-width="0.8" />
<text x="513.30" y="493.80" font-size="8.8" text-anchor="end" font-weight="normal" font-style="normal" fill="#000" >0.4</text>
<line x1="514.10" y1="518.90" x2="518.90" y2="518.90" stroke="#222" stroke-width="0.8" />
<text x="513.30" y="522.00" font-size="8.8" text-anchor="end" font-weight="normal" font-style="normal" fill="#000" >0.2</text>
<line x1="514.10" y1="546.90" x2="518.90" y2="546.90" stroke="#222" stroke-width="0.8" />
<text x="513.30" y="550.00" font-size="8.8" text-anchor="end" font-weight="normal" font-style="normal" fill="#000" >0.0</text>
<text x="485.40" y="487.40" font-size="10" text-anchor="middle" font-weight="normal" font-style="normal" fill="#000" transform="rotate(-90 485.4 487.4)" >Relative protein level</text>
<text x="498.20" y="488.80" font-size="10" text-anchor="middle" font-weight="normal" font-style="normal" fill="#000" transform="rotate(-90 498.2 488.8)" >of THRAP3</text>
<rect x="527.45" y="486.80" width="10.70" height="60.00" fill="#fff" stroke="#000" stroke-width="0.9" />
<line x1="532.80" y1="546.80" x2="532.80" y2="551.80" stroke="#222" stroke-width="0.8" />
<text x="0" y="0" font-size="10" text-anchor="end" transform="translate(538 556) rotate(-45)" fill="#000">BMSCs</text>
<rect x="546.85" y="485.60" width="11.50" height="61.20" fill="#9dc8f5" stroke="none" stroke-width="1" />
<line x1="552.60" y1="546.80" x2="552.60" y2="551.80" stroke="#222" stroke-width="0.8" />
<text x="0" y="0" font-size="10" text-anchor="end" transform="translate(556.9 558) rotate(-45)" fill="#000">BMMNCs</text>
<rect x="566.85" y="492.90" width="11.50" height="53.90" fill="#78f5b8" stroke="none" stroke-width="1" />
<line x1="572.60" y1="546.80" x2="572.60" y2="551.80" stroke="#222" stroke-width="0.8" />
<text x="0" y="0" font-size="10" text-anchor="end" transform="translate(578.1 557.3) rotate(-45)" fill="#000">HS-5</text>
<rect x="586.75" y="453.80" width="11.50" height="93.00" fill="#f53b3f" stroke="none" stroke-width="1" />
<line x1="592.50" y1="546.80" x2="592.50" y2="551.80" stroke="#222" stroke-width="0.8" />
<text x="0" y="0" font-size="10" text-anchor="end" transform="translate(597.5 556.5) rotate(-45)" fill="#000">THP-1</text>
<rect x="606.65" y="475.30" width="11.50" height="71.50" fill="#ee9a48" stroke="none" stroke-width="1" />
<line x1="612.40" y1="546.80" x2="612.40" y2="551.80" stroke="#222" stroke-width="0.8" />
<text x="0" y="0" font-size="10" text-anchor="end" transform="translate(616.3 557.5) rotate(-45)" fill="#000">HL-60</text>
<rect x="626.65" y="468.00" width="11.50" height="78.80" fill="#e2b07a" stroke="none" stroke-width="1" />
<line x1="632.40" y1="546.80" x2="632.40" y2="551.80" stroke="#222" stroke-width="0.8" />
<text x="0" y="0" font-size="10" text-anchor="end" transform="translate(637 556.7) rotate(-45)" fill="#000">NB-4</text>
<rect x="646.55" y="466.90" width="11.50" height="79.90" fill="#f54cf5" stroke="none" stroke-width="1" />
<line x1="652.30" y1="546.80" x2="652.30" y2="551.80" stroke="#222" stroke-width="0.8" />
<text x="0" y="0" font-size="10" text-anchor="end" transform="translate(656.7 555.5) rotate(-45)" fill="#000">KG-1</text>
<line x1="533.10" y1="479.50" x2="533.10" y2="490.50" stroke="#000" stroke-width="0.9" />
<line x1="530.00" y1="480.20" x2="536.20" y2="480.20" stroke="#000" stroke-width="0.9" />
<circle cx="527.60" cy="489.30" r="2.1" fill="#000"/>
<circle cx="537.60" cy="488.80" r="2.1" fill="#000"/>
<polygon points="535.40,478.90 534.25,480.89 531.95,480.89 530.80,478.90 531.95,476.91 534.25,476.91" fill="#000"/>
<line x1="552.80" y1="477.50" x2="552.80" y2="488.00" stroke="#000" stroke-width="0.9" />
<rect x="546.40" y="486.50" width="3.80" height="3.80" fill="#000" stroke="none" stroke-width="1" />
<rect x="550.90" y="475.60" width="3.80" height="3.80" fill="#000" stroke="none" stroke-width="1" />
<rect x="555.40" y="485.10" width="3.80" height="3.80" fill="#000" stroke="none" stroke-width="1" />
<line x1="573.20" y1="487.30" x2="573.20" y2="497.00" stroke="#000" stroke-width="0.9" />
<line x1="569.50" y1="487.30" x2="576.90" y2="487.30" stroke="#000" stroke-width="0.9" />
<polygon points="566.20,491.98 570.60,491.98 568.40,488.02" fill="#000"/>
<polygon points="575.50,491.98 579.90,491.98 577.70,488.02" fill="#000"/>
<polygon points="571.20,498.78 575.60,498.78 573.40,494.82" fill="#000"/>
<line x1="592.60" y1="444.70" x2="592.60" y2="462.80" stroke="#000" stroke-width="0.9" />
<line x1="589.00" y1="444.70" x2="596.20" y2="444.70" stroke="#000" stroke-width="0.9" />
<polygon points="590.30,443.73 594.90,443.73 592.60,447.87" fill="#000"/>
<polygon points="590.30,447.83 594.90,447.83 592.60,451.97" fill="#000"/>
<polygon points="590.30,460.73 594.90,460.73 592.60,464.87" fill="#000"/>
<text x="592.60" y="445.60" font-size="10" text-anchor="middle" font-weight="normal" font-style="normal" fill="#000" >***</text>
<line x1="612.30" y1="466.70" x2="612.30" y2="477.00" stroke="#000" stroke-width="0.9" />
<polygon points="610.00,468.77 614.60,468.77 612.30,464.63" fill="#000"/>
<polygon points="606.1,477.1 608.5,474.70000000000005 610.9,477.1 608.5,479.5" fill="#000"/>
<polygon points="614.9,476.4 617.3,474.0 619.6999999999999,476.4 617.3,478.79999999999995" fill="#000"/>
<line x1="632.20" y1="458.30" x2="632.20" y2="476.80" stroke="#000" stroke-width="0.9" />
<line x1="628.60" y1="458.30" x2="635.80" y2="458.30" stroke="#000" stroke-width="0.9" />
<circle cx="628.1" cy="460.1" r="2.1" fill="none" stroke="#000" stroke-width="0.8"/>
<circle cx="632.2" cy="463.5" r="2.1" fill="none" stroke="#000" stroke-width="0.8"/>
<circle cx="632.2" cy="476.8" r="2.1" fill="none" stroke="#000" stroke-width="0.8"/>
<text x="632.20" y="458.80" font-size="10" text-anchor="middle" font-weight="normal" font-style="normal" fill="#000" >*</text>
<line x1="651.90" y1="458.60" x2="651.90" y2="474.10" stroke="#000" stroke-width="0.9" />
<line x1="648.30" y1="458.60" x2="655.50" y2="458.60" stroke="#000" stroke-width="0.9" />
<rect x="645.4" y="458.7" width="4" height="3.6" fill="none" stroke="#000" stroke-width="0.8"/>
<rect x="649.9" y="459.9" width="4" height="3.6" fill="none" stroke="#000" stroke-width="0.8"/>
<rect x="649.9" y="472.3" width="4" height="3.6" fill="none" stroke="#000" stroke-width="0.8"/>
<text x="651.90" y="458.80" font-size="10" text-anchor="middle" font-weight="normal" font-style="normal" fill="#000" >*</text>
</svg></body></html>
